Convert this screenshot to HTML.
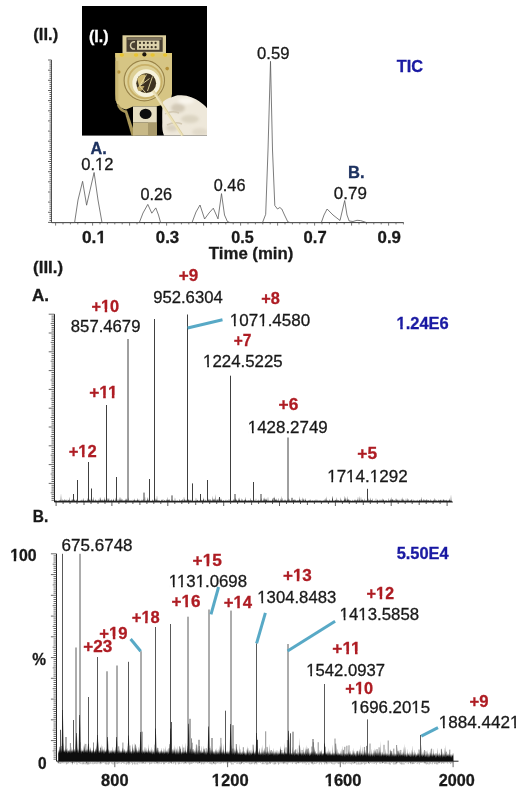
<!DOCTYPE html>
<html><head><meta charset="utf-8"><style>
html,body{margin:0;padding:0;background:#fff;}
svg{display:block;}
text{font-family:"Liberation Sans",sans-serif;}
</style></head><body>
<svg width="526" height="797" viewBox="0 0 526 797">
<defs><filter id="blur" x="-5%" y="-5%" width="110%" height="110%"><feGaussianBlur stdDeviation="0.6"/></filter>
<filter id="soft" x="-20%" y="-20%" width="140%" height="140%"><feGaussianBlur stdDeviation="1.6"/></filter>
<clipPath id="gloveclip"><path d="M81 95.7 C84 93 87 91.8 89.7 91.3 C93 89.5 96 89 98.3 89.2 C102 89 106 90 109.2 91.3 C112.5 92.5 115.5 94 117.8 95.7 C120.5 97.5 123 99.5 125 102.2 L125 129.6 L82 129.6 C80.5 126 80 122 80.3 116 C80.2 110 80 102 81 95.7 Z"/></clipPath>
<mask id="mk0" maskUnits="userSpaceOnUse" x="0" y="0" width="526" height="797"><rect width="526" height="797" fill="#fff"/><rect x="95.30" y="167.71" width="3.79" height="3.73" fill="#000"/><rect x="100.79" y="167.71" width="3.66" height="3.73" fill="#000"/></mask><mask id="mk1" maskUnits="userSpaceOnUse" x="0" y="0" width="526" height="797"><rect width="526" height="797" fill="#fff"/><rect x="96.50" y="240.48" width="3.82" height="4.16" fill="#000"/><rect x="102.93" y="240.48" width="3.60" height="4.16" fill="#000"/></mask><mask id="mk2" maskUnits="userSpaceOnUse" x="0" y="0" width="526" height="797"><rect width="526" height="797" fill="#fff"/><rect x="101.05" y="308.88" width="3.67" height="4.16" fill="#000"/><rect x="107.20" y="308.88" width="3.46" height="4.16" fill="#000"/></mask><mask id="mk3" maskUnits="userSpaceOnUse" x="0" y="0" width="526" height="797"><rect width="526" height="797" fill="#fff"/><rect x="230.11" y="323.31" width="3.86" height="3.73" fill="#000"/><rect x="235.71" y="323.31" width="3.73" height="3.73" fill="#000"/><rect x="258.49" y="323.31" width="3.86" height="3.73" fill="#000"/><rect x="264.09" y="323.31" width="3.73" height="3.73" fill="#000"/></mask><mask id="mk4" maskUnits="userSpaceOnUse" x="0" y="0" width="526" height="797"><rect width="526" height="797" fill="#fff"/><rect x="203.41" y="364.41" width="3.83" height="3.73" fill="#000"/><rect x="208.97" y="364.41" width="3.70" height="3.73" fill="#000"/></mask><mask id="mk5" maskUnits="userSpaceOnUse" x="0" y="0" width="526" height="797"><rect width="526" height="797" fill="#fff"/><rect x="396.56" y="326.38" width="3.69" height="4.16" fill="#000"/><rect x="402.75" y="326.38" width="3.48" height="4.16" fill="#000"/></mask><mask id="mk6" maskUnits="userSpaceOnUse" x="0" y="0" width="526" height="797"><rect width="526" height="797" fill="#fff"/><rect x="99.34" y="395.34" width="3.82" height="4.16" fill="#000"/><rect x="105.78" y="395.34" width="3.60" height="4.16" fill="#000"/><rect x="108.00" y="395.34" width="3.82" height="4.16" fill="#000"/><rect x="114.43" y="395.34" width="3.60" height="4.16" fill="#000"/></mask><mask id="mk7" maskUnits="userSpaceOnUse" x="0" y="0" width="526" height="797"><rect width="526" height="797" fill="#fff"/><rect x="248.11" y="430.31" width="3.84" height="3.73" fill="#000"/><rect x="253.69" y="430.31" width="3.71" height="3.73" fill="#000"/></mask><mask id="mk8" maskUnits="userSpaceOnUse" x="0" y="0" width="526" height="797"><rect width="526" height="797" fill="#fff"/><rect x="78.36" y="454.34" width="3.70" height="4.16" fill="#000"/><rect x="84.56" y="454.34" width="3.49" height="4.16" fill="#000"/></mask><mask id="mk9" maskUnits="userSpaceOnUse" x="0" y="0" width="526" height="797"><rect width="526" height="797" fill="#fff"/><rect x="327.51" y="479.41" width="3.86" height="3.73" fill="#000"/><rect x="333.11" y="479.41" width="3.73" height="3.73" fill="#000"/><rect x="346.43" y="479.41" width="3.86" height="3.73" fill="#000"/><rect x="352.03" y="479.41" width="3.73" height="3.73" fill="#000"/><rect x="370.07" y="479.41" width="3.86" height="3.73" fill="#000"/><rect x="375.67" y="479.41" width="3.73" height="3.73" fill="#000"/></mask><mask id="mk10" maskUnits="userSpaceOnUse" x="0" y="0" width="526" height="797"><rect width="526" height="797" fill="#fff"/><rect x="10.16" y="558.28" width="3.59" height="4.16" fill="#000"/><rect x="16.18" y="558.28" width="3.39" height="4.16" fill="#000"/></mask><mask id="mk11" maskUnits="userSpaceOnUse" x="0" y="0" width="526" height="797"><rect width="526" height="797" fill="#fff"/><rect x="202.75" y="563.58" width="3.82" height="4.16" fill="#000"/><rect x="209.19" y="563.58" width="3.60" height="4.16" fill="#000"/></mask><mask id="mk12" maskUnits="userSpaceOnUse" x="0" y="0" width="526" height="797"><rect width="526" height="797" fill="#fff"/><rect x="169.11" y="584.91" width="3.83" height="3.73" fill="#000"/><rect x="174.67" y="584.91" width="3.70" height="3.73" fill="#000"/><rect x="177.22" y="584.91" width="3.83" height="3.73" fill="#000"/><rect x="182.77" y="584.91" width="3.70" height="3.73" fill="#000"/><rect x="195.92" y="584.91" width="3.83" height="3.73" fill="#000"/><rect x="201.48" y="584.91" width="3.70" height="3.73" fill="#000"/></mask><mask id="mk13" maskUnits="userSpaceOnUse" x="0" y="0" width="526" height="797"><rect width="526" height="797" fill="#fff"/><rect x="292.97" y="578.75" width="3.79" height="4.16" fill="#000"/><rect x="299.34" y="578.75" width="3.57" height="4.16" fill="#000"/></mask><mask id="mk14" maskUnits="userSpaceOnUse" x="0" y="0" width="526" height="797"><rect width="526" height="797" fill="#fff"/><rect x="257.62" y="600.91" width="3.81" height="3.73" fill="#000"/><rect x="263.14" y="600.91" width="3.68" height="3.73" fill="#000"/></mask><mask id="mk15" maskUnits="userSpaceOnUse" x="0" y="0" width="526" height="797"><rect width="526" height="797" fill="#fff"/><rect x="376.04" y="596.04" width="3.67" height="4.16" fill="#000"/><rect x="382.19" y="596.04" width="3.46" height="4.16" fill="#000"/></mask><mask id="mk16" maskUnits="userSpaceOnUse" x="0" y="0" width="526" height="797"><rect width="526" height="797" fill="#fff"/><rect x="181.57" y="604.68" width="3.79" height="4.16" fill="#000"/><rect x="187.94" y="604.68" width="3.57" height="4.16" fill="#000"/></mask><mask id="mk17" maskUnits="userSpaceOnUse" x="0" y="0" width="526" height="797"><rect width="526" height="797" fill="#fff"/><rect x="233.54" y="605.64" width="3.72" height="4.16" fill="#000"/><rect x="239.79" y="605.64" width="3.51" height="4.16" fill="#000"/></mask><mask id="mk18" maskUnits="userSpaceOnUse" x="0" y="0" width="526" height="797"><rect width="526" height="797" fill="#fff"/><rect x="339.91" y="617.31" width="3.83" height="3.73" fill="#000"/><rect x="345.47" y="617.31" width="3.69" height="3.73" fill="#000"/><rect x="358.61" y="617.31" width="3.83" height="3.73" fill="#000"/><rect x="364.16" y="617.31" width="3.69" height="3.73" fill="#000"/></mask><mask id="mk19" maskUnits="userSpaceOnUse" x="0" y="0" width="526" height="797"><rect width="526" height="797" fill="#fff"/><rect x="141.44" y="620.48" width="3.69" height="4.16" fill="#000"/><rect x="147.63" y="620.48" width="3.48" height="4.16" fill="#000"/></mask><mask id="mk20" maskUnits="userSpaceOnUse" x="0" y="0" width="526" height="797"><rect width="526" height="797" fill="#fff"/><rect x="109.11" y="636.28" width="3.71" height="4.16" fill="#000"/><rect x="115.35" y="636.28" width="3.50" height="4.16" fill="#000"/></mask><mask id="mk21" maskUnits="userSpaceOnUse" x="0" y="0" width="526" height="797"><rect width="526" height="797" fill="#fff"/><rect x="342.49" y="651.24" width="3.82" height="4.16" fill="#000"/><rect x="348.93" y="651.24" width="3.60" height="4.16" fill="#000"/><rect x="351.15" y="651.24" width="3.82" height="4.16" fill="#000"/><rect x="357.58" y="651.24" width="3.60" height="4.16" fill="#000"/></mask><mask id="mk22" maskUnits="userSpaceOnUse" x="0" y="0" width="526" height="797"><rect width="526" height="797" fill="#fff"/><rect x="306.52" y="673.51" width="3.80" height="3.73" fill="#000"/><rect x="312.03" y="673.51" width="3.67" height="3.73" fill="#000"/></mask><mask id="mk23" maskUnits="userSpaceOnUse" x="0" y="0" width="526" height="797"><rect width="526" height="797" fill="#fff"/><rect x="354.91" y="691.48" width="3.66" height="4.16" fill="#000"/><rect x="361.05" y="691.48" width="3.45" height="4.16" fill="#000"/></mask><mask id="mk24" maskUnits="userSpaceOnUse" x="0" y="0" width="526" height="797"><rect width="526" height="797" fill="#fff"/><rect x="350.71" y="710.51" width="3.83" height="3.73" fill="#000"/><rect x="356.27" y="710.51" width="3.70" height="3.73" fill="#000"/><rect x="411.60" y="710.51" width="3.83" height="3.73" fill="#000"/><rect x="417.17" y="710.51" width="3.70" height="3.73" fill="#000"/></mask><mask id="mk25" maskUnits="userSpaceOnUse" x="0" y="0" width="526" height="797"><rect width="526" height="797" fill="#fff"/><rect x="439.11" y="725.51" width="3.87" height="3.73" fill="#000"/><rect x="444.73" y="725.51" width="3.74" height="3.73" fill="#000"/><rect x="510.35" y="725.51" width="3.87" height="3.73" fill="#000"/><rect x="515.97" y="725.51" width="3.74" height="3.73" fill="#000"/></mask><mask id="mk26" maskUnits="userSpaceOnUse" x="0" y="0" width="526" height="797"><rect width="526" height="797" fill="#fff"/><rect x="211.86" y="783.08" width="3.70" height="4.16" fill="#000"/><rect x="218.07" y="783.08" width="3.49" height="4.16" fill="#000"/></mask><mask id="mk27" maskUnits="userSpaceOnUse" x="0" y="0" width="526" height="797"><rect width="526" height="797" fill="#fff"/><rect x="324.76" y="783.08" width="3.70" height="4.16" fill="#000"/><rect x="330.97" y="783.08" width="3.49" height="4.16" fill="#000"/></mask>
<filter id="gblur" x="0" y="0" width="100%" height="100%" filterUnits="userSpaceOnUse"><feGaussianBlur stdDeviation="0.4"/></filter></defs>
<rect width="526" height="797" fill="#fff"/>
<g filter="url(#gblur)">
<rect width="526" height="797" fill="#fff"/>
<g transform="translate(82,6)">
<rect x="0" y="0" width="125" height="129.6" fill="#060606"/>
<g filter="url(#blur)">
<rect x="40.5" y="29.3" width="43.5" height="18" fill="#dccf9c"/>
<rect x="44.5" y="31.3" width="36.2" height="14.5" fill="#4a4132"/>
<rect x="45.5" y="32.2" width="34" height="1.6" fill="#8a806a"/>
<rect x="55" y="34.5" width="22.4" height="9.3" fill="#ddd3ac"/>
<circle cx="58.0" cy="36.9" r="1.1" fill="#3a3224"/><circle cx="58.0" cy="41.2" r="1.1" fill="#3a3224"/><circle cx="61.9" cy="36.9" r="1.1" fill="#3a3224"/><circle cx="61.9" cy="41.2" r="1.1" fill="#3a3224"/><circle cx="65.8" cy="36.9" r="1.1" fill="#3a3224"/><circle cx="65.8" cy="41.2" r="1.1" fill="#3a3224"/><circle cx="69.7" cy="36.9" r="1.1" fill="#3a3224"/><circle cx="69.7" cy="41.2" r="1.1" fill="#3a3224"/><circle cx="73.6" cy="36.9" r="1.1" fill="#3a3224"/><circle cx="73.6" cy="41.2" r="1.1" fill="#3a3224"/>
<path d="M53 35.8 A3.7 3.7 0 1 0 53 43" stroke="#d6ccaa" stroke-width="1.5" fill="none"/>
<path d="M33.3 47 L90 47 L90 88 Q89 96 84 98 L74 100.5 L51 100.5 L44 103.5 Q37 102 34.5 97 Q33.3 94 33.3 88 Z" fill="#d6c584"/>
<path d="M36.5 98 Q40 104 45 104.5 L53.5 129.6 L49.5 129.6 L43 107 Q36 104 35 99 Z" fill="#a89658"/>
<rect x="33.3" y="47" width="56.7" height="4.5" fill="#dcc878"/>
<ellipse cx="39.8" cy="49" rx="2.2" ry="1.8" fill="#e8c430"/>
<ellipse cx="54.1" cy="49" rx="2.2" ry="1.8" fill="#e8c430"/>
<ellipse cx="70.6" cy="49" rx="2.2" ry="1.8" fill="#e8c430"/>
<ellipse cx="83.2" cy="49" rx="2.2" ry="1.8" fill="#e8c430"/>
<circle cx="62.4" cy="48.4" r="2.1" fill="#1a140c"/>
<circle cx="36.7" cy="66" r="1.8" fill="#b49038"/><circle cx="85.2" cy="62.6" r="1.8" fill="#b49038"/>
<rect x="33.3" y="55" width="3" height="40" fill="#c2ae68" opacity="0.6"/>
<circle cx="62.3" cy="74.6" r="21" fill="#ddd096"/>
<circle cx="62.3" cy="74.6" r="20.2" fill="none" stroke="#9a8448" stroke-width="1.2"/>
<circle cx="63" cy="75.6" r="16.8" fill="none" stroke="#c8b068" stroke-width="1.8"/>
<circle cx="64.2" cy="77.2" r="11.9" fill="none" stroke="#f6f2dc" stroke-width="3.9"/>
<circle cx="64.2" cy="77.2" r="9.9" fill="#3c3220"/>
<path d="M57 80 L55.2 73 L57.5 70 L60.5 68.5 L63.5 68.4 L62 76 Z" fill="#cfba72"/>
<path d="M57 80 L55 82 L56.5 85 L60 84.5 L62.5 80 Z" fill="#b8a260"/>
<path d="M57.5 80 L64.5 68.5 M57.5 80 L67.5 72.5 M57.5 80 L63.5 86.5 M65.5 85 L70.5 70.5" stroke="#e8dca6" stroke-width="0.9" fill="none"/>
<path d="M51 116.3 L74.8 116.3 L74.8 129.6 L51 129.6 Z" fill="#c8b987"/>
<rect x="66" y="116.3" width="8.8" height="13.3" fill="#a99a6c"/>
<path d="M51 100.5 L74.8 100.5 L74.8 116.3 L51 116.3 Z" fill="#e6dec2"/>
<ellipse cx="63.6" cy="107.9" rx="6" ry="5.2" fill="#0e0c0a"/>
<path d="M81 95.7 C84 93 87 91.8 89.7 91.3 C93 89.5 96 89 98.3 89.2 C102 89 106 90 109.2 91.3 C112.5 92.5 115.5 94 117.8 95.7 C120.5 97.5 123 99.5 125 102.2 L125 129.6 L82 129.6 C80.5 126 80 122 80.3 116 C80.2 110 80 102 81 95.7 Z" fill="#eee8da"/>
<g filter="url(#soft)" clip-path="url(#gloveclip)">
<ellipse cx="96" cy="102" rx="7" ry="4.5" fill="#a89c80" opacity="0.4"/>
<ellipse cx="108" cy="113" rx="9" ry="4" fill="#b0a488" opacity="0.3"/>
<ellipse cx="90" cy="122" rx="6" ry="3.5" fill="#b4a88e" opacity="0.35"/>
<ellipse cx="118" cy="126" rx="8" ry="4" fill="#bcb198" opacity="0.25"/>
<ellipse cx="104" cy="95" rx="8" ry="3" fill="#fdfbf5" opacity="0.7"/>
</g>
<path d="M83 108 Q90 104 97 107 M85 119 Q93 115 100 118" stroke="#d2c8b2" stroke-width="1.4" fill="none"/>
<path d="M70.8 84.5 L100.5 129.6" stroke="#ece2b8" stroke-width="2.8" fill="none"/>
<path d="M71.8 84.5 L101.5 129.6" stroke="#c9b98a" stroke-width="0.7" fill="none" opacity="0.7"/>
</g>
</g>
<line x1="51.5" y1="60" x2="51.5" y2="222.6" stroke="#444" stroke-width="0.9"/>
<path d="M48.1 60.0H51.5M49.5 62.0H51.5M49.5 64.1H51.5M49.5 66.1H51.5M49.5 68.1H51.5M48.1 70.2H51.5M49.5 72.2H51.5M49.5 74.2H51.5M49.5 76.2H51.5M49.5 78.3H51.5M48.1 80.3H51.5M49.5 82.3H51.5M49.5 84.4H51.5M49.5 86.4H51.5M49.5 88.4H51.5M48.1 90.5H51.5M49.5 92.5H51.5M49.5 94.5H51.5M49.5 96.5H51.5M49.5 98.6H51.5M48.1 100.6H51.5M49.5 102.6H51.5M49.5 104.7H51.5M49.5 106.7H51.5M49.5 108.7H51.5M48.1 110.8H51.5M49.5 112.8H51.5M49.5 114.8H51.5M49.5 116.8H51.5M49.5 118.9H51.5M48.1 120.9H51.5M49.5 122.9H51.5M49.5 125.0H51.5M49.5 127.0H51.5M49.5 129.0H51.5M48.1 131.1H51.5M49.5 133.1H51.5M49.5 135.1H51.5M49.5 137.1H51.5M49.5 139.2H51.5M48.1 141.2H51.5M49.5 143.2H51.5M49.5 145.3H51.5M49.5 147.3H51.5M49.5 149.3H51.5M48.1 151.4H51.5M49.5 153.4H51.5M49.5 155.4H51.5M49.5 157.4H51.5M49.5 159.5H51.5M48.1 161.5H51.5M49.5 163.5H51.5M49.5 165.6H51.5M49.5 167.6H51.5M49.5 169.6H51.5M48.1 171.7H51.5M49.5 173.7H51.5M49.5 175.7H51.5M49.5 177.7H51.5M49.5 179.8H51.5M48.1 181.8H51.5M49.5 183.8H51.5M49.5 185.9H51.5M49.5 187.9H51.5M49.5 189.9H51.5M48.1 192.0H51.5M49.5 194.0H51.5M49.5 196.0H51.5M49.5 198.0H51.5M49.5 200.1H51.5M48.1 202.1H51.5M49.5 204.1H51.5M49.5 206.2H51.5M49.5 208.2H51.5M49.5 210.2H51.5M48.1 212.3H51.5M49.5 214.3H51.5M49.5 216.3H51.5M49.5 218.3H51.5M49.5 220.4H51.5M48.1 222.4H51.5" stroke="#333" stroke-width="0.8" fill="none"/>
<line x1="51.5" y1="222.6" x2="403.5" y2="222.6" stroke="#333" stroke-width="1"/>
<path d="M55.6 222.6V225.6M63.0 222.6V224.4M70.4 222.6V224.4M77.8 222.6V224.4M85.2 222.6V224.4M92.6 222.6V225.6M100.0 222.6V224.4M107.4 222.6V224.4M114.8 222.6V224.4M122.2 222.6V224.4M129.6 222.6V225.6M137.0 222.6V224.4M144.4 222.6V224.4M151.8 222.6V224.4M159.2 222.6V224.4M166.6 222.6V225.6M174.0 222.6V224.4M181.4 222.6V224.4M188.8 222.6V224.4M196.2 222.6V224.4M203.6 222.6V225.6M211.0 222.6V224.4M218.4 222.6V224.4M225.8 222.6V224.4M233.2 222.6V224.4M240.6 222.6V225.6M248.0 222.6V224.4M255.4 222.6V224.4M262.8 222.6V224.4M270.2 222.6V224.4M277.6 222.6V225.6M285.0 222.6V224.4M292.4 222.6V224.4M299.8 222.6V224.4M307.2 222.6V224.4M314.6 222.6V225.6M322.0 222.6V224.4M329.4 222.6V224.4M336.8 222.6V224.4M344.2 222.6V224.4M351.6 222.6V225.6M359.0 222.6V224.4M366.4 222.6V224.4M373.8 222.6V224.4M381.2 222.6V224.4M388.6 222.6V225.6M396.0 222.6V224.4M403.4 222.6V224.4" stroke="#444" stroke-width="0.7" fill="none"/>
<polyline fill="none" stroke="#5a5a5a" stroke-width="0.8" stroke-linejoin="round" points="52.0,222.6 74.6,222.6 78.0,200.0 82.6,181.3 86.6,205.2 94.1,172.5 98.0,200.0 102.0,222.6 139.3,222.6 143.0,213.0 147.8,204.4 151.8,213.2 155.8,207.9 158.5,215.0 160.6,222.6 192.0,222.6 196.0,212.0 200.0,205.0 204.6,219.0 209.0,213.0 213.3,208.2 218.0,218.9 221.5,193.6 224.5,215.0 227.4,221.5 230.0,222.6 262.5,222.6 265.7,214.3 268.0,150.0 270.5,61.3 272.5,150.0 274.8,205.5 277.5,209.0 279.8,207.5 281.8,209.0 284.5,215.0 287.8,221.8 290.0,222.6 321.3,222.6 324.0,215.0 327.1,209.0 333.0,215.0 340.0,220.5 344.7,200.5 347.0,215.0 349.2,221.0 353.0,221.5 357.0,220.3 360.7,220.6 366.5,222.6 403.5,222.6"/>
<line x1="54.5" y1="314.2" x2="54.5" y2="502.0" stroke="#222" stroke-width="1"/>
<path d="M48.7 314.2H54.5M51.5 316.1H54.5M51.5 318.0H54.5M51.5 319.8H54.5M51.5 321.7H54.5M50.7 323.6H54.5M51.5 325.5H54.5M51.5 327.4H54.5M51.5 329.2H54.5M51.5 331.1H54.5M48.7 333.0H54.5M51.5 334.9H54.5M51.5 336.8H54.5M51.5 338.6H54.5M51.5 340.5H54.5M50.7 342.4H54.5M51.5 344.3H54.5M51.5 346.2H54.5M51.5 348.0H54.5M51.5 349.9H54.5M48.7 351.8H54.5M51.5 353.7H54.5M51.5 355.6H54.5M51.5 357.4H54.5M51.5 359.3H54.5M50.7 361.2H54.5M51.5 363.1H54.5M51.5 365.0H54.5M51.5 366.8H54.5M51.5 368.7H54.5M48.7 370.6H54.5M51.5 372.5H54.5M51.5 374.4H54.5M51.5 376.2H54.5M51.5 378.1H54.5M50.7 380.0H54.5M51.5 381.9H54.5M51.5 383.8H54.5M51.5 385.6H54.5M51.5 387.5H54.5M48.7 389.4H54.5M51.5 391.3H54.5M51.5 393.2H54.5M51.5 395.0H54.5M51.5 396.9H54.5M50.7 398.8H54.5M51.5 400.7H54.5M51.5 402.6H54.5M51.5 404.4H54.5M51.5 406.3H54.5M48.7 408.2H54.5M51.5 410.1H54.5M51.5 412.0H54.5M51.5 413.8H54.5M51.5 415.7H54.5M50.7 417.6H54.5M51.5 419.5H54.5M51.5 421.4H54.5M51.5 423.2H54.5M51.5 425.1H54.5M48.7 427.0H54.5M51.5 428.9H54.5M51.5 430.8H54.5M51.5 432.6H54.5M51.5 434.5H54.5M50.7 436.4H54.5M51.5 438.3H54.5M51.5 440.2H54.5M51.5 442.0H54.5M51.5 443.9H54.5M48.7 445.8H54.5M51.5 447.7H54.5M51.5 449.6H54.5M51.5 451.4H54.5M51.5 453.3H54.5M50.7 455.2H54.5M51.5 457.1H54.5M51.5 459.0H54.5M51.5 460.8H54.5M51.5 462.7H54.5M48.7 464.6H54.5M51.5 466.5H54.5M51.5 468.4H54.5M51.5 470.2H54.5M51.5 472.1H54.5M50.7 474.0H54.5M51.5 475.9H54.5M51.5 477.8H54.5M51.5 479.6H54.5M51.5 481.5H54.5M48.7 483.4H54.5M51.5 485.3H54.5M51.5 487.2H54.5M51.5 489.0H54.5M51.5 490.9H54.5M50.7 492.8H54.5M51.5 494.7H54.5M51.5 496.6H54.5M51.5 498.4H54.5M51.5 500.3H54.5" stroke="#3a3a3a" stroke-width="0.75" fill="none"/>
<line x1="54.5" y1="502.0" x2="452.8" y2="502.0" stroke="#222" stroke-width="1"/>
<path d="M56.1 502.0V506.0M63.1 502.0V504.0M70.0 502.0V504.0M77.0 502.0V504.0M84.0 502.0V505.0M91.0 502.0V504.0M98.0 502.0V504.0M105.0 502.0V504.0M111.9 502.0V506.0M118.9 502.0V504.0M125.9 502.0V504.0M132.9 502.0V504.0M139.9 502.0V505.0M146.9 502.0V504.0M153.8 502.0V504.0M160.8 502.0V504.0M167.8 502.0V506.0M174.8 502.0V504.0M181.8 502.0V504.0M188.7 502.0V504.0M195.7 502.0V505.0M202.7 502.0V504.0M209.7 502.0V504.0M216.7 502.0V504.0M223.7 502.0V506.0M230.6 502.0V504.0M237.6 502.0V504.0M244.6 502.0V504.0M251.6 502.0V505.0M258.6 502.0V504.0M265.6 502.0V504.0M272.5 502.0V504.0M279.5 502.0V506.0M286.5 502.0V504.0M293.5 502.0V504.0M300.5 502.0V504.0M307.4 502.0V505.0M314.4 502.0V504.0M321.4 502.0V504.0M328.4 502.0V504.0M335.4 502.0V506.0M342.4 502.0V504.0M349.3 502.0V504.0M356.3 502.0V504.0M363.3 502.0V505.0M370.3 502.0V504.0M377.3 502.0V504.0M384.3 502.0V504.0M391.2 502.0V506.0M398.2 502.0V504.0M405.2 502.0V504.0M412.2 502.0V504.0M419.2 502.0V505.0M426.2 502.0V504.0M433.1 502.0V504.0M440.1 502.0V504.0M447.1 502.0V506.0" stroke="#333" stroke-width="0.8" fill="none"/>
<polygon fill="#222" points="55.00,502.00 55.00,500.31 55.30,501.10 55.60,499.65 55.90,501.10 56.20,499.93 56.50,501.10 56.80,500.64 57.10,501.10 57.40,500.66 57.70,501.10 58.00,500.63 58.30,501.10 58.60,500.15 58.90,501.10 59.20,500.57 59.50,501.10 59.80,499.71 60.10,501.10 60.40,499.84 60.70,501.10 61.00,493.31 61.30,501.10 61.60,500.36 61.90,501.10 62.20,500.57 62.50,501.10 62.80,499.01 63.10,501.10 63.40,499.83 63.70,501.10 64.00,500.23 64.30,501.10 64.60,498.62 64.90,501.10 65.20,499.56 65.50,501.10 65.80,500.32 66.10,501.10 66.40,500.10 66.70,501.10 67.00,499.12 67.30,501.10 67.60,500.42 67.90,501.10 68.20,499.96 68.50,501.10 68.80,499.39 69.10,501.10 69.40,496.78 69.70,501.10 70.00,500.16 70.30,501.10 70.60,500.54 70.90,501.10 71.20,500.66 71.50,501.10 71.80,499.25 72.10,501.10 72.40,498.62 72.70,501.10 73.00,499.51 73.30,501.10 73.60,499.83 73.90,501.10 74.20,498.87 74.50,501.10 74.80,500.06 75.10,501.10 75.40,500.64 75.70,501.10 76.00,499.66 76.30,501.10 76.60,498.97 76.90,501.10 77.20,500.21 77.50,501.10 77.80,500.68 78.10,501.10 78.40,500.52 78.70,501.10 79.00,500.64 79.30,501.10 79.60,500.56 79.90,501.10 80.20,500.20 80.50,501.10 80.80,500.62 81.10,501.10 81.40,499.90 81.70,501.10 82.00,498.99 82.30,501.10 82.60,500.37 82.90,501.10 83.20,500.26 83.50,501.10 83.80,497.54 84.10,501.10 84.40,500.51 84.70,501.10 85.00,500.43 85.30,501.10 85.60,499.81 85.90,501.10 86.20,500.70 86.50,501.10 86.80,500.24 87.10,501.10 87.40,497.64 87.70,501.10 88.00,499.98 88.30,501.10 88.60,495.82 88.90,501.10 89.20,499.19 89.50,501.10 89.80,499.10 90.10,501.10 90.40,500.19 90.70,501.10 91.00,498.03 91.30,501.10 91.60,500.47 91.90,501.10 92.20,498.78 92.50,501.10 92.80,500.54 93.10,501.10 93.40,496.56 93.70,501.10 94.00,499.75 94.30,501.10 94.60,500.41 94.90,501.10 95.20,500.25 95.50,501.10 95.80,498.81 96.10,501.10 96.40,500.07 96.70,501.10 97.00,500.61 97.30,501.10 97.60,500.28 97.90,501.10 98.20,498.93 98.50,501.10 98.80,500.68 99.10,501.10 99.40,499.95 99.70,501.10 100.00,497.10 100.30,501.10 100.60,496.86 100.90,501.10 101.20,499.51 101.50,501.10 101.80,500.24 102.10,501.10 102.40,499.22 102.70,501.10 103.00,499.19 103.30,501.10 103.60,500.45 103.90,501.10 104.20,496.51 104.50,501.10 104.80,499.06 105.10,501.10 105.40,499.35 105.70,501.10 106.00,499.97 106.30,501.10 106.60,498.47 106.90,501.10 107.20,500.40 107.50,501.10 107.80,497.56 108.10,501.10 108.40,497.94 108.70,501.10 109.00,497.60 109.30,501.10 109.60,500.45 109.90,501.10 110.20,500.48 110.50,501.10 110.80,499.72 111.10,501.10 111.40,498.86 111.70,501.10 112.00,499.64 112.30,501.10 112.60,500.61 112.90,501.10 113.20,498.29 113.50,501.10 113.80,499.31 114.10,501.10 114.40,500.50 114.70,501.10 115.00,500.30 115.30,501.10 115.60,497.14 115.90,501.10 116.20,500.19 116.50,501.10 116.80,499.41 117.10,501.10 117.40,500.56 117.70,501.10 118.00,498.35 118.30,501.10 118.60,500.54 118.90,501.10 119.20,496.77 119.50,501.10 119.80,500.27 120.10,501.10 120.40,496.63 120.70,501.10 121.00,499.65 121.30,501.10 121.60,497.99 121.90,501.10 122.20,498.65 122.50,501.10 122.80,500.46 123.10,501.10 123.40,500.35 123.70,501.10 124.00,499.82 124.30,501.10 124.60,500.16 124.90,501.10 125.20,498.29 125.50,501.10 125.80,500.09 126.10,501.10 126.40,498.35 126.70,501.10 127.00,498.20 127.30,501.10 127.60,499.94 127.90,501.10 128.20,500.68 128.50,501.10 128.80,497.00 129.10,501.10 129.40,500.51 129.70,501.10 130.00,499.41 130.30,501.10 130.60,500.31 130.90,501.10 131.20,499.89 131.50,501.10 131.80,500.59 132.10,501.10 132.40,500.41 132.70,501.10 133.00,499.22 133.30,501.10 133.60,499.88 133.90,501.10 134.20,498.26 134.50,501.10 134.80,499.75 135.10,501.10 135.40,499.98 135.70,501.10 136.00,500.10 136.30,501.10 136.60,500.05 136.90,501.10 137.20,499.50 137.50,501.10 137.80,497.85 138.10,501.10 138.40,499.88 138.70,501.10 139.00,498.87 139.30,501.10 139.60,500.57 139.90,501.10 140.20,500.62 140.50,501.10 140.80,500.62 141.10,501.10 141.40,499.17 141.70,501.10 142.00,500.53 142.30,501.10 142.60,499.62 142.90,501.10 143.20,498.56 143.50,501.10 143.80,500.45 144.10,501.10 144.40,500.19 144.70,501.10 145.00,496.11 145.30,501.10 145.60,500.52 145.90,501.10 146.20,499.98 146.50,501.10 146.80,500.48 147.10,501.10 147.40,496.53 147.70,501.10 148.00,497.79 148.30,501.10 148.60,499.72 148.90,501.10 149.20,500.63 149.50,501.10 149.80,499.15 150.10,501.10 150.40,500.59 150.70,501.10 151.00,500.66 151.30,501.10 151.60,500.38 151.90,501.10 152.20,500.15 152.50,501.10 152.80,498.99 153.10,501.10 153.40,500.54 153.70,501.10 154.00,499.85 154.30,501.10 154.60,497.39 154.90,501.10 155.20,500.15 155.50,501.10 155.80,497.91 156.10,501.10 156.40,499.08 156.70,501.10 157.00,495.10 157.30,501.10 157.60,500.10 157.90,501.10 158.20,499.89 158.50,501.10 158.80,500.39 159.10,501.10 159.40,499.95 159.70,501.10 160.00,500.58 160.30,501.10 160.60,500.65 160.90,501.10 161.20,500.33 161.50,501.10 161.80,499.27 162.10,501.10 162.40,500.01 162.70,501.10 163.00,498.15 163.30,501.10 163.60,500.68 163.90,501.10 164.20,499.90 164.50,501.10 164.80,500.06 165.10,501.10 165.40,500.59 165.70,501.10 166.00,500.13 166.30,501.10 166.60,498.90 166.90,501.10 167.20,499.99 167.50,501.10 167.80,496.66 168.10,501.10 168.40,498.91 168.70,501.10 169.00,499.69 169.30,501.10 169.60,498.45 169.90,501.10 170.20,500.63 170.50,501.10 170.80,500.40 171.10,501.10 171.40,500.61 171.70,501.10 172.00,498.66 172.30,501.10 172.60,500.37 172.90,501.10 173.20,500.35 173.50,501.10 173.80,500.53 174.10,501.10 174.40,500.39 174.70,501.10 175.00,497.10 175.30,501.10 175.60,500.42 175.90,501.10 176.20,500.33 176.50,501.10 176.80,500.70 177.10,501.10 177.40,500.06 177.70,501.10 178.00,500.48 178.30,501.10 178.60,500.70 178.90,501.10 179.20,500.61 179.50,501.10 179.80,498.40 180.10,501.10 180.40,500.43 180.70,501.10 181.00,499.95 181.30,501.10 181.60,499.63 181.90,501.10 182.20,498.59 182.50,501.10 182.80,500.31 183.10,501.10 183.40,500.54 183.70,501.10 184.00,496.08 184.30,501.10 184.60,498.47 184.90,501.10 185.20,499.38 185.50,501.10 185.80,500.55 186.10,501.10 186.40,500.00 186.70,501.10 187.00,499.07 187.30,501.10 187.60,499.82 187.90,501.10 188.20,499.55 188.50,501.10 188.80,498.61 189.10,501.10 189.40,500.25 189.70,501.10 190.00,498.89 190.30,501.10 190.60,499.71 190.90,501.10 191.20,499.56 191.50,501.10 191.80,500.70 192.10,501.10 192.40,499.32 192.70,501.10 193.00,499.93 193.30,501.10 193.60,500.63 193.90,501.10 194.20,500.41 194.50,501.10 194.80,500.39 195.10,501.10 195.40,500.47 195.70,501.10 196.00,496.98 196.30,501.10 196.60,500.22 196.90,501.10 197.20,499.55 197.50,501.10 197.80,499.74 198.10,501.10 198.40,500.62 198.70,501.10 199.00,500.41 199.30,501.10 199.60,500.34 199.90,501.10 200.20,498.52 200.50,501.10 200.80,499.59 201.10,501.10 201.40,499.57 201.70,501.10 202.00,499.97 202.30,501.10 202.60,500.07 202.90,501.10 203.20,498.46 203.50,501.10 203.80,496.88 204.10,501.10 204.40,500.68 204.70,501.10 205.00,498.99 205.30,501.10 205.60,500.10 205.90,501.10 206.20,500.46 206.50,501.10 206.80,500.46 207.10,501.10 207.40,500.55 207.70,501.10 208.00,497.65 208.30,501.10 208.60,498.98 208.90,501.10 209.20,498.52 209.50,501.10 209.80,500.44 210.10,501.10 210.40,498.53 210.70,501.10 211.00,500.02 211.30,501.10 211.60,500.34 211.90,501.10 212.20,500.28 212.50,501.10 212.80,495.49 213.10,501.10 213.40,498.87 213.70,501.10 214.00,498.09 214.30,501.10 214.60,498.38 214.90,501.10 215.20,500.23 215.50,501.10 215.80,493.98 216.10,501.10 216.40,500.25 216.70,501.10 217.00,498.62 217.30,501.10 217.60,498.90 217.90,501.10 218.20,497.96 218.50,501.10 218.80,500.39 219.10,501.10 219.40,500.49 219.70,501.10 220.00,497.57 220.30,501.10 220.60,499.03 220.90,501.10 221.20,498.25 221.50,501.10 221.80,499.90 222.10,501.10 222.40,500.65 222.70,501.10 223.00,500.10 223.30,501.10 223.60,499.67 223.90,501.10 224.20,500.65 224.50,501.10 224.80,500.56 225.10,501.10 225.40,500.28 225.70,501.10 226.00,499.36 226.30,501.10 226.60,500.40 226.90,501.10 227.20,500.34 227.50,501.10 227.80,500.20 228.10,501.10 228.40,500.52 228.70,501.10 229.00,498.34 229.30,501.10 229.60,500.45 229.90,501.10 230.20,495.05 230.50,501.10 230.80,500.55 231.10,501.10 231.40,500.60 231.70,501.10 232.00,500.60 232.30,501.10 232.60,500.40 232.90,501.10 233.20,498.52 233.50,501.10 233.80,500.17 234.10,501.10 234.40,499.96 234.70,501.10 235.00,498.09 235.30,501.10 235.60,497.27 235.90,501.10 236.20,500.00 236.50,501.10 236.80,498.71 237.10,501.10 237.40,500.38 237.70,501.10 238.00,500.19 238.30,501.10 238.60,497.62 238.90,501.10 239.20,497.06 239.50,501.10 239.80,499.46 240.10,501.10 240.40,500.06 240.70,501.10 241.00,500.70 241.30,501.10 241.60,498.09 241.90,501.10 242.20,498.77 242.50,501.10 242.80,500.41 243.10,501.10 243.40,500.53 243.70,501.10 244.00,499.55 244.30,501.10 244.60,499.42 244.90,501.10 245.20,499.25 245.50,501.10 245.80,496.44 246.10,501.10 246.40,500.44 246.70,501.10 247.00,499.66 247.30,501.10 247.60,500.56 247.90,501.10 248.20,499.69 248.50,501.10 248.80,500.58 249.10,501.10 249.40,499.96 249.70,501.10 250.00,500.21 250.30,501.10 250.60,497.53 250.90,501.10 251.20,500.08 251.50,501.10 251.80,499.67 252.10,501.10 252.40,500.06 252.70,501.10 253.00,500.42 253.30,501.10 253.60,499.48 253.90,501.10 254.20,500.68 254.50,501.10 254.80,499.58 255.10,501.10 255.40,500.40 255.70,501.10 256.00,498.11 256.30,501.10 256.60,500.67 256.90,501.10 257.20,500.15 257.50,501.10 257.80,500.48 258.10,501.10 258.40,499.36 258.70,501.10 259.00,500.47 259.30,501.10 259.60,500.33 259.90,501.10 260.20,500.44 260.50,501.10 260.80,499.27 261.10,501.10 261.40,497.66 261.70,501.10 262.00,500.49 262.30,501.10 262.60,500.16 262.90,501.10 263.20,497.73 263.50,501.10 263.80,500.20 264.10,501.10 264.40,497.05 264.70,501.10 265.00,498.16 265.30,501.10 265.60,498.42 265.90,501.10 266.20,499.38 266.50,501.10 266.80,498.02 267.10,501.10 267.40,500.49 267.70,501.10 268.00,496.17 268.30,501.10 268.60,500.22 268.90,501.10 269.20,500.30 269.50,501.10 269.80,500.70 270.10,501.10 270.40,500.27 270.70,501.10 271.00,500.57 271.30,501.10 271.60,500.47 271.90,501.10 272.20,498.98 272.50,501.10 272.80,497.45 273.10,501.10 273.40,500.23 273.70,501.10 274.00,500.49 274.30,501.10 274.60,495.90 274.90,501.10 275.20,499.03 275.50,501.10 275.80,499.00 276.10,501.10 276.40,498.17 276.70,501.10 277.00,499.32 277.30,501.10 277.60,500.29 277.90,501.10 278.20,497.54 278.50,501.10 278.80,500.40 279.10,501.10 279.40,500.32 279.70,501.10 280.00,500.70 280.30,501.10 280.60,498.22 280.90,501.10 281.20,495.75 281.50,501.10 281.80,500.06 282.10,501.10 282.40,497.62 282.70,501.10 283.00,500.41 283.30,501.10 283.60,500.02 283.90,501.10 284.20,500.50 284.50,501.10 284.80,499.36 285.10,501.10 285.40,499.22 285.70,501.10 286.00,500.30 286.30,501.10 286.60,500.25 286.90,501.10 287.20,500.62 287.50,501.10 287.80,499.30 288.10,501.10 288.40,497.75 288.70,501.10 289.00,500.31 289.30,501.10 289.60,498.55 289.90,501.10 290.20,500.39 290.50,501.10 290.80,500.60 291.10,501.10 291.40,499.46 291.70,501.10 292.00,500.43 292.30,501.10 292.60,499.73 292.90,501.10 293.20,499.32 293.50,501.10 293.80,499.61 294.10,501.10 294.40,498.86 294.70,501.10 295.00,499.86 295.30,501.10 295.60,499.36 295.90,501.10 296.20,500.42 296.50,501.10 296.80,500.53 297.10,501.10 297.40,499.84 297.70,501.10 298.00,500.20 298.30,501.10 298.60,499.99 298.90,501.10 299.20,499.05 299.50,501.10 299.80,495.99 300.10,501.10 300.40,500.06 300.70,501.10 301.00,498.86 301.30,501.10 301.60,500.66 301.90,501.10 302.20,500.57 302.50,501.10 302.80,497.09 303.10,501.10 303.40,498.04 303.70,501.10 304.00,498.69 304.30,501.10 304.60,500.40 304.90,501.10 305.20,497.79 305.50,501.10 305.80,499.79 306.10,501.10 306.40,500.45 306.70,501.10 307.00,500.55 307.30,501.10 307.60,500.41 307.90,501.10 308.20,499.65 308.50,501.10 308.80,500.69 309.10,501.10 309.40,499.57 309.70,501.10 310.00,500.33 310.30,501.10 310.60,499.11 310.90,501.10 311.20,500.63 311.50,501.10 311.80,500.20 312.10,501.10 312.40,499.68 312.70,501.10 313.00,500.52 313.30,501.10 313.60,500.17 313.90,501.10 314.20,500.33 314.50,501.10 314.80,500.33 315.10,501.10 315.40,500.26 315.70,501.10 316.00,498.70 316.30,501.10 316.60,500.25 316.90,501.10 317.20,499.40 317.50,501.10 317.80,500.69 318.10,501.10 318.40,500.15 318.70,501.10 319.00,500.18 319.30,501.10 319.60,500.08 319.90,501.10 320.20,500.69 320.50,501.10 320.80,499.68 321.10,501.10 321.40,500.61 321.70,501.10 322.00,500.24 322.30,501.10 322.60,500.54 322.90,501.10 323.20,499.96 323.50,501.10 323.80,500.58 324.10,501.10 324.40,499.07 324.70,501.10 325.00,500.48 325.30,501.10 325.60,497.83 325.90,501.10 326.20,496.23 326.50,501.10 326.80,500.21 327.10,501.10 327.40,499.73 327.70,501.10 328.00,500.53 328.30,501.10 328.60,500.45 328.90,501.10 329.20,498.83 329.50,501.10 329.80,500.50 330.10,501.10 330.40,500.19 330.70,501.10 331.00,500.22 331.30,501.10 331.60,500.42 331.90,501.10 332.20,495.52 332.50,501.10 332.80,495.69 333.10,501.10 333.40,500.57 333.70,501.10 334.00,499.90 334.30,501.10 334.60,500.33 334.90,501.10 335.20,499.83 335.50,501.10 335.80,499.62 336.10,501.10 336.40,497.08 336.70,501.10 337.00,500.03 337.30,501.10 337.60,499.26 337.90,501.10 338.20,500.09 338.50,501.10 338.80,500.06 339.10,501.10 339.40,500.56 339.70,501.10 340.00,500.60 340.30,501.10 340.60,496.90 340.90,501.10 341.20,500.61 341.50,501.10 341.80,499.20 342.10,501.10 342.40,500.64 342.70,501.10 343.00,500.23 343.30,501.10 343.60,500.55 343.90,501.10 344.20,495.15 344.50,501.10 344.80,499.01 345.10,501.10 345.40,496.70 345.70,501.10 346.00,497.56 346.30,501.10 346.60,500.52 346.90,501.10 347.20,495.66 347.50,501.10 347.80,499.29 348.10,501.10 348.40,498.43 348.70,501.10 349.00,499.01 349.30,501.10 349.60,500.00 349.90,501.10 350.20,500.47 350.50,501.10 350.80,499.99 351.10,501.10 351.40,500.66 351.70,501.10 352.00,500.52 352.30,501.10 352.60,499.56 352.90,501.10 353.20,500.52 353.50,501.10 353.80,500.58 354.10,501.10 354.40,499.69 354.70,501.10 355.00,498.64 355.30,501.10 355.60,499.83 355.90,501.10 356.20,500.59 356.50,501.10 356.80,499.71 357.10,501.10 357.40,499.10 357.70,501.10 358.00,496.04 358.30,501.10 358.60,500.25 358.90,501.10 359.20,500.12 359.50,501.10 359.80,495.79 360.10,501.10 360.40,500.41 360.70,501.10 361.00,496.56 361.30,501.10 361.60,499.61 361.90,501.10 362.20,498.82 362.50,501.10 362.80,499.74 363.10,501.10 363.40,499.98 363.70,501.10 364.00,500.56 364.30,501.10 364.60,498.13 364.90,501.10 365.20,500.26 365.50,501.10 365.80,500.26 366.10,501.10 366.40,499.82 366.70,501.10 367.00,500.47 367.30,501.10 367.60,500.06 367.90,501.10 368.20,497.94 368.50,501.10 368.80,500.54 369.10,501.10 369.40,499.68 369.70,501.10 370.00,499.18 370.30,501.10 370.60,497.28 370.90,501.10 371.20,499.87 371.50,501.10 371.80,499.66 372.10,501.10 372.40,497.93 372.70,501.10 373.00,500.41 373.30,501.10 373.60,500.66 373.90,501.10 374.20,500.18 374.50,501.10 374.80,500.64 375.10,501.10 375.40,500.69 375.70,501.10 376.00,497.87 376.30,501.10 376.60,500.48 376.90,501.10 377.20,499.99 377.50,501.10 377.80,499.02 378.10,501.10 378.40,500.33 378.70,501.10 379.00,500.65 379.30,501.10 379.60,499.17 379.90,501.10 380.20,500.69 380.50,501.10 380.80,499.33 381.10,501.10 381.40,499.35 381.70,501.10 382.00,500.44 382.30,501.10 382.60,498.10 382.90,501.10 383.20,499.32 383.50,501.10 383.80,498.83 384.10,501.10 384.40,500.39 384.70,501.10 385.00,500.13 385.30,501.10 385.60,499.96 385.90,501.10 386.20,499.67 386.50,501.10 386.80,500.46 387.10,501.10 387.40,500.68 387.70,501.10 388.00,500.43 388.30,501.10 388.60,497.81 388.90,501.10 389.20,500.30 389.50,501.10 389.80,500.30 390.10,501.10 390.40,498.32 390.70,501.10 391.00,499.52 391.30,501.10 391.60,496.84 391.90,501.10 392.20,498.87 392.50,501.10 392.80,498.75 393.10,501.10 393.40,499.41 393.70,501.10 394.00,500.33 394.30,501.10 394.60,499.73 394.90,501.10 395.20,498.28 395.50,501.10 395.80,500.67 396.10,501.10 396.40,498.06 396.70,501.10 397.00,498.94 397.30,501.10 397.60,499.52 397.90,501.10 398.20,499.51 398.50,501.10 398.80,500.63 399.10,501.10 399.40,500.25 399.70,501.10 400.00,498.99 400.30,501.10 400.60,500.63 400.90,501.10 401.20,498.24 401.50,501.10 401.80,500.59 402.10,501.10 402.40,496.96 402.70,501.10 403.00,499.03 403.30,501.10 403.60,498.96 403.90,501.10 404.20,500.36 404.50,501.10 404.80,500.60 405.10,501.10 405.40,500.47 405.70,501.10 406.00,498.01 406.30,501.10 406.60,500.37 406.90,501.10 407.20,500.24 407.50,501.10 407.80,497.38 408.10,501.10 408.40,498.79 408.70,501.10 409.00,500.67 409.30,501.10 409.60,500.13 409.90,501.10 410.20,500.27 410.50,501.10 410.80,499.93 411.10,501.10 411.40,498.72 411.70,501.10 412.00,498.99 412.30,501.10 412.60,500.70 412.90,501.10 413.20,499.26 413.50,501.10 413.80,500.70 414.10,501.10 414.40,500.02 414.70,501.10 415.00,500.50 415.30,501.10 415.60,500.27 415.90,501.10 416.20,500.40 416.50,501.10 416.80,500.37 417.10,501.10 417.40,499.50 417.70,501.10 418.00,500.58 418.30,501.10 418.60,500.62 418.90,501.10 419.20,499.51 419.50,501.10 419.80,499.71 420.10,501.10 420.40,500.19 420.70,501.10 421.00,498.49 421.30,501.10 421.60,496.49 421.90,501.10 422.20,500.39 422.50,501.10 422.80,500.00 423.10,501.10 423.40,498.55 423.70,501.10 424.00,500.08 424.30,501.10 424.60,499.30 424.90,501.10 425.20,499.66 425.50,501.10 425.80,500.30 426.10,501.10 426.40,498.85 426.70,501.10 427.00,499.35 427.30,501.10 427.60,500.12 427.90,501.10 428.20,499.83 428.50,501.10 428.80,500.08 429.10,501.10 429.40,500.43 429.70,501.10 430.00,500.34 430.30,501.10 430.60,498.84 430.90,501.10 431.20,500.53 431.50,501.10 431.80,500.30 432.10,501.10 432.40,500.52 432.70,501.10 433.00,500.49 433.30,501.10 433.60,499.40 433.90,501.10 434.20,497.42 434.50,501.10 434.80,500.22 435.10,501.10 435.40,499.12 435.70,501.10 436.00,500.13 436.30,501.10 436.60,499.68 436.90,501.10 437.20,500.47 437.50,501.10 437.80,500.67 438.10,501.10 438.40,499.13 438.70,501.10 439.00,500.01 439.30,501.10 439.60,500.08 439.90,501.10 440.20,499.77 440.50,501.10 440.80,499.35 441.10,501.10 441.40,500.14 441.70,501.10 442.00,499.32 442.30,501.10 442.60,500.44 442.90,501.10 443.20,498.58 443.50,501.10 443.80,499.50 444.10,501.10 444.40,499.56 444.70,501.10 445.00,500.10 445.30,501.10 445.60,499.71 445.90,501.10 446.20,500.16 446.50,501.10 446.80,499.45 447.10,501.10 447.40,500.41 447.70,501.10 448.00,500.09 448.30,501.10 448.60,500.17 448.90,501.10 449.20,498.04 449.50,501.10 449.80,499.64 450.10,501.10 450.40,500.21 450.70,501.10 451.00,494.17 451.30,501.10 451.60,500.52 451.90,501.10 451.80,502.00"/>
<path d="M73.5 502.0V494.0M77.5 502.0V480.0M88.5 502.0V462.0M91.5 502.0V488.5M106.5 502.0V405.0M116.5 502.0V477.0M128.0 502.0V339.0M144.0 502.0V492.6M149.5 502.0V479.0M154.5 502.0V319.0M172.0 502.0V495.4M187.5 502.0V314.5M192.5 502.0V483.4M200.5 502.0V494.0M207.5 502.0V480.0M219.5 502.0V497.0M230.5 502.0V375.7M235.0 502.0V494.0M253.5 502.0V482.0M261.0 502.0V494.0M274.0 502.0V497.8M288.0 502.0V437.5M292.0 502.0V497.8M367.5 502.0V488.8" stroke="#2a2a2a" stroke-width="0.9" fill="none"/>
<line x1="56.5" y1="553.8" x2="56.5" y2="761.2" stroke="#222" stroke-width="1"/>
<path d="M50.9 553.8H56.5M53.5 555.9H56.5M53.5 558.0H56.5M53.5 560.0H56.5M53.5 562.1H56.5M52.7 564.2H56.5M53.5 566.3H56.5M53.5 568.3H56.5M53.5 570.4H56.5M53.5 572.5H56.5M50.9 574.6H56.5M53.5 576.6H56.5M53.5 578.7H56.5M53.5 580.8H56.5M53.5 582.9H56.5M52.7 584.9H56.5M53.5 587.0H56.5M53.5 589.1H56.5M53.5 591.2H56.5M53.5 593.2H56.5M50.9 595.3H56.5M53.5 597.4H56.5M53.5 599.5H56.5M53.5 601.5H56.5M53.5 603.6H56.5M52.7 605.7H56.5M53.5 607.8H56.5M53.5 609.8H56.5M53.5 611.9H56.5M53.5 614.0H56.5M50.9 616.1H56.5M53.5 618.1H56.5M53.5 620.2H56.5M53.5 622.3H56.5M53.5 624.4H56.5M52.7 626.4H56.5M53.5 628.5H56.5M53.5 630.6H56.5M53.5 632.7H56.5M53.5 634.7H56.5M50.9 636.8H56.5M53.5 638.9H56.5M53.5 641.0H56.5M53.5 643.0H56.5M53.5 645.1H56.5M52.7 647.2H56.5M53.5 649.3H56.5M53.5 651.3H56.5M53.5 653.4H56.5M53.5 655.5H56.5M50.9 657.6H56.5M53.5 659.6H56.5M53.5 661.7H56.5M53.5 663.8H56.5M53.5 665.9H56.5M52.7 667.9H56.5M53.5 670.0H56.5M53.5 672.1H56.5M53.5 674.2H56.5M53.5 676.2H56.5M50.9 678.3H56.5M53.5 680.4H56.5M53.5 682.5H56.5M53.5 684.5H56.5M53.5 686.6H56.5M52.7 688.7H56.5M53.5 690.8H56.5M53.5 692.8H56.5M53.5 694.9H56.5M53.5 697.0H56.5M50.9 699.1H56.5M53.5 701.1H56.5M53.5 703.2H56.5M53.5 705.3H56.5M53.5 707.4H56.5M52.7 709.4H56.5M53.5 711.5H56.5M53.5 713.6H56.5M53.5 715.7H56.5M53.5 717.7H56.5M50.9 719.8H56.5M53.5 721.9H56.5M53.5 724.0H56.5M53.5 726.0H56.5M53.5 728.1H56.5M52.7 730.2H56.5M53.5 732.3H56.5M53.5 734.3H56.5M53.5 736.4H56.5M53.5 738.5H56.5M50.9 740.6H56.5M53.5 742.6H56.5M53.5 744.7H56.5M53.5 746.8H56.5M53.5 748.9H56.5M52.7 750.9H56.5M53.5 753.0H56.5M53.5 755.1H56.5M53.5 757.2H56.5M53.5 759.2H56.5" stroke="#3a3a3a" stroke-width="0.75" fill="none"/>
<line x1="56.5" y1="761.2" x2="458.5" y2="761.2" stroke="#222" stroke-width="1"/>
<path d="M58.4 761.2V763.2M72.5 761.2V763.2M86.6 761.2V763.2M100.7 761.2V763.2M114.8 761.2V767.2M128.9 761.2V763.2M143.0 761.2V763.2M157.1 761.2V763.2M171.2 761.2V763.2M185.3 761.2V763.2M199.4 761.2V763.2M213.5 761.2V763.2M227.6 761.2V767.2M241.7 761.2V763.2M255.8 761.2V763.2M269.9 761.2V763.2M284.0 761.2V763.2M298.1 761.2V763.2M312.1 761.2V763.2M326.2 761.2V763.2M340.3 761.2V767.2M354.4 761.2V763.2M368.5 761.2V763.2M382.6 761.2V763.2M396.7 761.2V763.2M410.8 761.2V763.2M424.9 761.2V763.2M439.0 761.2V763.2M453.1 761.2V767.2" stroke="#444" stroke-width="0.8" fill="none"/>
<path d="M60.5 761.2V729.8M62.5 761.2V553.8M66.0 761.2V737.0M73.5 761.2V720.0M76.0 761.2V647.5M80.0 761.2V553.8M88.5 761.2V697.0M97.5 761.2V657.0M107.0 761.2V671.3M117.0 761.2V665.5M128.5 761.2V661.8M141.0 761.2V651.2M142.0 761.2V731.7M155.5 761.2V627.0M170.5 761.2V624.0M171.5 761.2V722.0M188.0 761.2V616.7M190.0 761.2V718.8M199.0 761.2V739.8M209.0 761.2V609.5M212.0 761.2V738.0M225.5 761.2V710.7M231.0 761.2V610.6M233.0 761.2V725.2M256.5 761.2V643.3M257.5 761.2V739.8M288.0 761.2V644.0M290.5 761.2V733.3M293.0 761.2V731.7M313.0 761.2V739.0M324.5 761.2V684.0M367.5 761.2V719.4M420.5 761.2V735.0" stroke="#5a5a5a" stroke-width="1" fill="none"/>
<path d="M61.50 761.2L62.30 709.93L62.90 709.93L63.70 761.2ZM75.50 761.2L76.30 733.07L76.90 733.07L77.70 761.2ZM78.50 761.2L79.30 714.97L79.90 714.97L80.70 761.2ZM87.50 761.2L88.30 743.63L88.90 743.63L89.70 761.2ZM96.50 761.2L97.30 735.03L97.90 735.03L98.70 761.2ZM106.50 761.2L107.30 737.12L107.90 737.12L108.70 761.2ZM115.50 761.2L116.30 737.07L116.90 737.07L117.70 761.2ZM127.50 761.2L128.30 735.50L128.90 735.50L129.70 761.2ZM139.50 761.2L140.30 732.03L140.90 732.03L141.70 761.2ZM154.50 761.2L155.30 728.55L155.90 728.55L156.70 761.2ZM169.50 761.2L170.30 728.55L170.90 728.55L171.70 761.2ZM187.50 761.2L188.30 723.72L188.90 723.72L189.70 761.2ZM207.50 761.2L208.30 726.57L208.90 726.57L209.70 761.2ZM229.50 761.2L230.30 723.96L230.90 723.96L231.70 761.2ZM255.50 761.2L256.30 732.91L256.90 732.91L257.70 761.2ZM287.50 761.2L288.30 730.84L288.90 730.84L289.70 761.2ZM323.50 761.2L324.30 743.48L324.90 743.48L325.70 761.2Z" fill="#222"/>
<path d="M59.90 761.2V746.70M61.30 761.2V746.00M70.40 761.2V743.05M80.20 761.2V742.21M85.80 761.2V743.92M93.50 761.2V742.47M97.70 761.2V748.12M100.50 761.2V747.69M118.70 761.2V746.38M122.90 761.2V742.56M128.50 761.2V745.26M129.90 761.2V745.51M135.50 761.2V744.53M155.10 761.2V744.70M157.20 761.2V747.69M157.90 761.2V748.16M169.10 761.2V748.33M169.80 761.2V744.21M179.60 761.2V746.40M180.30 761.2V748.69M183.80 761.2V747.57M188.00 761.2V745.87M190.10 761.2V749.19M191.50 761.2V738.37M192.20 761.2V742.71M192.90 761.2V749.18M196.40 761.2V744.52M199.20 761.2V746.14M204.10 761.2V749.32M206.20 761.2V748.20M209.70 761.2V747.96M220.90 761.2V737.88M232.80 761.2V748.71M236.30 761.2V744.00M243.30 761.2V747.23M253.10 761.2V744.67M265.70 761.2V731.32M267.10 761.2V746.88M271.30 761.2V750.02M280.40 761.2V749.52M281.80 761.2V750.08M286.00 761.2V747.38M287.40 761.2V740.07M295.80 761.2V749.46M299.30 761.2V745.51M302.10 761.2V749.98M307.00 761.2V749.28M308.40 761.2V748.45M311.90 761.2V746.55M313.30 761.2V742.20M318.20 761.2V742.21M325.20 761.2V746.74M335.00 761.2V738.55M335.70 761.2V743.65M343.40 761.2V749.86M344.80 761.2V746.82M346.90 761.2V745.73M349.00 761.2V745.30M357.40 761.2V750.82M364.40 761.2V746.97M366.50 761.2V745.89M370.00 761.2V743.54M377.00 761.2V748.99M379.10 761.2V747.35M384.00 761.2V744.82M388.20 761.2V740.50M390.30 761.2V750.56M391.70 761.2V751.18M393.80 761.2V748.60M396.60 761.2V745.04M398.00 761.2V751.15M400.80 761.2V749.94M419.00 761.2V749.48M424.60 761.2V750.06M426.00 761.2V751.41M431.60 761.2V748.67M441.40 761.2V749.18M446.30 761.2V751.67M449.80 761.2V749.63" stroke="#444" stroke-width="0.6" fill="none"/>
<path d="M58.00 761.2V763.10M59.37 761.2V763.62M60.61 761.2V763.93M61.78 761.2V763.32M62.78 761.2V763.14M63.99 761.2V763.47M65.25 761.2V762.72M66.34 761.2V764.42M67.33 761.2V763.81M68.52 761.2V763.27M70.11 761.2V763.29M71.53 761.2V763.02M72.38 761.2V764.44M73.53 761.2V762.82M74.64 761.2V763.58M76.03 761.2V762.92M77.01 761.2V764.62M78.40 761.2V763.01M79.47 761.2V763.40M80.81 761.2V763.93M82.29 761.2V764.34M83.51 761.2V764.18M84.90 761.2V764.22M86.08 761.2V764.27M87.45 761.2V764.53M88.35 761.2V764.44M89.15 761.2V764.23M90.42 761.2V763.70M91.99 761.2V763.84M93.13 761.2V764.27M94.63 761.2V763.91M95.73 761.2V763.60M96.90 761.2V764.15M97.93 761.2V763.48M99.17 761.2V763.47M100.23 761.2V764.27M101.71 761.2V763.70M102.87 761.2V763.07M103.91 761.2V762.99M105.17 761.2V763.86M106.04 761.2V764.54M107.10 761.2V764.39M108.57 761.2V764.62M109.53 761.2V763.55M111.06 761.2V762.72M111.90 761.2V763.83M113.10 761.2V764.54M114.52 761.2V763.78M116.12 761.2V763.73M117.33 761.2V764.07M118.44 761.2V763.42M119.72 761.2V763.40M121.27 761.2V764.05M122.50 761.2V762.90M123.59 761.2V763.50M124.84 761.2V763.85M126.35 761.2V764.63M127.54 761.2V763.58M128.84 761.2V764.69M129.91 761.2V763.76M131.36 761.2V763.04M132.42 761.2V764.66M133.88 761.2V763.73M134.77 761.2V764.49M136.12 761.2V764.34M137.71 761.2V764.48M138.85 761.2V763.01M139.88 761.2V763.72M141.08 761.2V763.08M142.03 761.2V763.96M143.31 761.2V763.41M144.91 761.2V763.97M145.74 761.2V763.52M147.17 761.2V763.31M148.52 761.2V762.71M149.57 761.2V764.38M150.84 761.2V764.04M151.79 761.2V763.70M153.04 761.2V763.23M154.35 761.2V763.76M155.95 761.2V763.85M157.08 761.2V762.94M158.01 761.2V764.22M158.89 761.2V762.90M159.83 761.2V763.74M161.29 761.2V763.93M162.73 761.2V762.82M163.54 761.2V764.24M164.60 761.2V764.13M165.68 761.2V763.04M166.70 761.2V762.90M168.22 761.2V763.86M169.30 761.2V763.60M170.41 761.2V762.81M171.92 761.2V763.87M173.49 761.2V763.58M174.78 761.2V763.20M175.62 761.2V764.56M177.10 761.2V763.33M178.62 761.2V764.33M179.66 761.2V763.91M181.23 761.2V763.69M182.79 761.2V763.19M183.90 761.2V764.14M184.88 761.2V763.32M186.38 761.2V763.67M187.82 761.2V763.19M188.75 761.2V763.42M189.70 761.2V764.64M190.74 761.2V763.82M191.63 761.2V763.77M192.74 761.2V763.51M193.59 761.2V762.95M195.05 761.2V763.40M196.05 761.2V763.08M197.07 761.2V763.17M197.90 761.2V764.03M198.97 761.2V763.01M200.34 761.2V762.89M201.35 761.2V764.37M202.26 761.2V763.59M203.72 761.2V764.31M204.65 761.2V763.41M206.03 761.2V763.45M207.60 761.2V763.12M209.16 761.2V763.71M210.14 761.2V763.61M211.04 761.2V764.11M212.05 761.2V764.50M213.32 761.2V763.44M214.32 761.2V763.92M215.29 761.2V764.44M216.19 761.2V763.73M217.42 761.2V763.24M218.84 761.2V763.47M220.17 761.2V763.84M221.21 761.2V763.48M222.08 761.2V763.05M223.56 761.2V763.34M224.89 761.2V762.92M226.14 761.2V763.42M227.34 761.2V763.29M228.20 761.2V763.32M229.18 761.2V762.95M230.55 761.2V763.26M231.67 761.2V764.52M233.09 761.2V764.47M234.58 761.2V762.96M235.60 761.2V762.76M236.95 761.2V764.03M238.03 761.2V763.53M239.36 761.2V764.10M240.36 761.2V764.39M241.44 761.2V763.96M242.38 761.2V762.93M243.91 761.2V764.17M245.28 761.2V762.78M246.11 761.2V763.02M247.07 761.2V763.31M248.18 761.2V762.78M249.23 761.2V763.98M250.17 761.2V764.38M251.43 761.2V764.13M252.43 761.2V763.57M253.78 761.2V763.40M254.58 761.2V764.37M256.00 761.2V763.27M256.83 761.2V764.41M258.12 761.2V762.79M259.12 761.2V762.92M260.55 761.2V763.12M262.08 761.2V764.20M262.95 761.2V764.09M264.06 761.2V764.20M265.53 761.2V763.26M266.40 761.2V764.59M267.54 761.2V764.56M268.89 761.2V764.18M270.36 761.2V763.96M271.52 761.2V762.81M272.88 761.2V763.56M274.09 761.2V764.56M274.99 761.2V764.22M275.82 761.2V764.11M277.27 761.2V763.22M278.50 761.2V764.64M279.81 761.2V763.79M280.81 761.2V762.82M281.90 761.2V763.52M282.86 761.2V763.32M283.77 761.2V764.11M285.11 761.2V763.18M286.10 761.2V763.73M287.26 761.2V764.57M288.34 761.2V763.30M289.85 761.2V762.98M291.10 761.2V763.37M292.55 761.2V763.80M293.96 761.2V763.04M295.29 761.2V763.90M296.46 761.2V764.23M297.92 761.2V762.93M298.96 761.2V763.42M299.92 761.2V762.82M300.94 761.2V763.09M302.31 761.2V763.60M303.20 761.2V763.35M304.37 761.2V763.43M305.31 761.2V762.84M306.11 761.2V764.68M307.51 761.2V762.87M308.89 761.2V764.66M310.14 761.2V762.92M311.33 761.2V763.57M312.28 761.2V763.79M313.09 761.2V764.54M314.40 761.2V763.96M315.95 761.2V764.01M316.95 761.2V763.19M317.87 761.2V762.76M319.28 761.2V764.38M320.32 761.2V763.07M321.63 761.2V764.39M323.17 761.2V763.04M324.60 761.2V764.36M326.00 761.2V763.35M326.94 761.2V764.35M328.00 761.2V763.44M329.24 761.2V763.44M330.70 761.2V763.18M331.54 761.2V763.83M332.84 761.2V764.34M334.20 761.2V764.51M335.76 761.2V763.69M336.96 761.2V763.01M338.00 761.2V763.86M338.86 761.2V764.08M339.80 761.2V763.59M341.37 761.2V762.88M342.20 761.2V763.58M343.16 761.2V764.15M343.96 761.2V764.38M345.44 761.2V764.27M346.58 761.2V763.27M347.91 761.2V763.73M349.05 761.2V763.38M350.20 761.2V764.03M351.66 761.2V764.51M352.59 761.2V763.29M353.75 761.2V763.83M354.83 761.2V763.09M355.69 761.2V763.35M356.86 761.2V764.64M358.39 761.2V764.43M359.97 761.2V764.62M361.26 761.2V764.32M362.11 761.2V764.05M363.40 761.2V763.29M364.66 761.2V764.61M365.84 761.2V763.99M366.88 761.2V763.39M368.39 761.2V762.76M369.34 761.2V764.06M370.50 761.2V762.87M371.83 761.2V763.44M373.09 761.2V763.53M374.31 761.2V763.83M375.43 761.2V762.93M376.38 761.2V764.48M377.61 761.2V762.92M379.10 761.2V763.21M379.98 761.2V763.76M380.98 761.2V763.68M382.22 761.2V763.15M383.48 761.2V762.93M384.69 761.2V763.88M385.56 761.2V763.52M386.42 761.2V763.58M387.91 761.2V763.80M389.28 761.2V764.21M390.17 761.2V764.68M391.55 761.2V762.90M393.01 761.2V763.48M393.95 761.2V764.62M395.20 761.2V764.25M396.11 761.2V764.25M396.95 761.2V763.17M398.05 761.2V762.73M399.33 761.2V763.13M400.37 761.2V764.11M401.51 761.2V764.48M402.81 761.2V764.44M404.06 761.2V764.54M405.55 761.2V763.04M406.95 761.2V763.38M408.36 761.2V764.06M409.82 761.2V762.95M410.92 761.2V764.17M412.48 761.2V764.14M413.31 761.2V763.91M414.19 761.2V763.80M415.63 761.2V762.93M417.17 761.2V764.05M418.18 761.2V763.09M419.34 761.2V764.38M420.60 761.2V762.93M421.42 761.2V762.92M422.86 761.2V763.07M424.10 761.2V763.28M425.45 761.2V763.46M426.37 761.2V764.45M427.60 761.2V764.08M429.04 761.2V764.60M429.85 761.2V763.38M430.78 761.2V763.70M432.27 761.2V764.30M433.10 761.2V763.06M434.56 761.2V764.06M435.67 761.2V763.65M436.60 761.2V764.39M437.71 761.2V764.45M439.00 761.2V762.85M440.06 761.2V763.13M441.58 761.2V763.88M442.41 761.2V763.04M443.50 761.2V763.64M444.76 761.2V763.48M445.85 761.2V762.71M447.11 761.2V763.37M447.93 761.2V763.62M449.52 761.2V762.79M450.43 761.2V764.04M451.45 761.2V763.25M452.65 761.2V763.22" stroke="#707070" stroke-width="0.55" fill="none"/>
<polygon fill="#0a0a0a" points="58.20,761.20 58.20,748.70 58.45,753.69 58.70,750.14 58.95,753.25 59.20,746.10 59.45,752.98 59.70,748.21 59.95,752.28 60.20,747.05 60.45,753.60 60.70,747.94 60.95,753.26 61.20,747.55 61.45,753.01 61.70,749.38 61.95,752.55 62.20,750.12 62.45,752.39 62.70,741.34 62.95,752.49 63.20,749.70 63.45,752.46 63.70,742.62 63.95,752.67 64.20,749.09 64.45,752.38 64.70,749.91 64.95,752.38 65.20,749.54 65.45,752.88 65.70,744.74 65.95,753.63 66.20,748.54 66.45,752.15 66.70,748.56 66.95,752.51 67.20,747.33 67.45,753.54 67.70,750.17 67.95,753.61 68.20,749.67 68.45,751.86 68.70,749.96 68.95,753.23 69.20,749.83 69.45,752.23 69.70,748.49 69.95,753.13 70.20,749.90 70.45,753.77 70.70,748.51 70.95,753.46 71.20,746.18 71.45,752.12 71.70,749.94 71.95,753.61 72.20,748.32 72.45,752.29 72.70,749.58 72.95,753.17 73.20,749.33 73.45,752.55 73.70,750.26 73.95,751.97 74.20,748.42 74.45,752.87 74.70,748.57 74.95,752.82 75.20,750.37 75.45,753.02 75.70,735.56 75.95,753.35 76.20,749.61 76.45,752.22 76.70,750.11 76.95,752.09 77.20,747.05 77.45,753.00 77.70,748.65 77.95,753.24 78.20,748.59 78.45,753.41 78.70,749.84 78.95,753.46 79.20,747.45 79.45,753.49 79.70,742.87 79.95,752.50 80.20,748.97 80.45,752.22 80.70,750.44 80.95,753.27 81.20,747.49 81.45,753.94 81.70,749.95 81.95,752.15 82.20,750.42 82.45,752.10 82.70,749.09 82.95,752.35 83.20,744.87 83.45,752.29 83.70,750.10 83.95,753.84 84.20,743.25 84.45,752.48 84.70,742.43 84.95,753.28 85.20,749.67 85.45,752.93 85.70,749.73 85.95,752.23 86.20,747.88 86.45,753.31 86.70,749.50 86.95,752.15 87.20,748.87 87.45,753.87 87.70,744.74 87.95,752.49 88.20,749.96 88.45,752.91 88.70,750.02 88.95,753.57 89.20,748.50 89.45,754.04 89.70,750.07 89.95,752.37 90.20,746.59 90.45,752.60 90.70,747.79 90.95,752.64 91.20,749.77 91.45,753.86 91.70,750.23 91.95,753.28 92.20,749.38 92.45,753.86 92.70,750.12 92.95,752.82 93.20,747.57 93.45,752.47 93.70,746.62 93.95,752.70 94.20,750.56 94.45,754.06 94.70,750.60 94.95,752.42 95.20,747.96 95.45,752.46 95.70,748.33 95.95,752.81 96.20,745.62 96.45,753.90 96.70,738.68 96.95,753.73 97.20,742.78 97.45,752.61 97.70,749.53 97.95,752.19 98.20,741.29 98.45,753.92 98.70,750.41 98.95,752.44 99.20,749.55 99.45,753.54 99.70,750.35 99.95,753.18 100.20,750.44 100.45,753.17 100.70,745.67 100.95,752.62 101.20,743.84 101.45,753.65 101.70,750.06 101.95,752.73 102.20,745.02 102.45,753.02 102.70,749.08 102.95,752.23 103.20,748.38 103.45,753.30 103.70,749.13 103.95,754.19 104.20,746.58 104.45,753.02 104.70,749.97 104.95,754.18 105.20,749.76 105.45,753.06 105.70,750.43 105.95,752.25 106.20,748.88 106.45,752.76 106.70,748.87 106.95,752.74 107.20,750.32 107.45,753.95 107.70,747.70 107.95,752.37 108.20,748.40 108.45,753.56 108.70,749.19 108.95,754.22 109.20,750.78 109.45,753.99 109.70,749.36 109.95,754.28 110.20,750.26 110.45,753.78 110.70,749.85 110.95,753.09 111.20,749.31 111.45,753.66 111.70,750.03 111.95,753.40 112.20,750.31 112.45,752.85 112.70,746.03 112.95,753.77 113.20,749.35 113.45,752.77 113.70,750.53 113.95,753.39 114.20,749.36 114.45,753.97 114.70,750.30 114.95,753.99 115.20,749.62 115.45,754.01 115.70,746.37 115.95,752.44 116.20,749.90 116.45,754.00 116.70,750.61 116.95,752.87 117.20,750.66 117.45,753.98 117.70,749.41 117.95,752.56 118.20,749.88 118.45,753.78 118.70,749.70 118.95,753.99 119.20,748.05 119.45,753.76 119.70,749.99 119.95,752.88 120.20,749.98 120.45,753.17 120.70,750.88 120.95,753.56 121.20,750.80 121.45,753.86 121.70,750.28 121.95,752.91 122.20,747.34 122.45,753.70 122.70,747.02 122.95,753.28 123.20,747.80 123.45,753.19 123.70,750.86 123.95,753.18 124.20,748.46 124.45,753.27 124.70,748.87 124.95,753.16 125.20,749.99 125.45,754.32 125.70,750.55 125.95,753.90 126.20,750.05 126.45,753.14 126.70,750.84 126.95,753.24 127.20,749.50 127.45,754.29 127.70,742.20 127.95,753.42 128.20,749.76 128.45,753.33 128.70,749.72 128.95,753.39 129.20,749.66 129.45,754.16 129.70,748.80 129.95,753.32 130.20,750.94 130.45,753.63 130.70,748.10 130.95,752.76 131.20,750.54 131.45,754.17 131.70,750.83 131.95,754.05 132.20,742.98 132.45,753.97 132.70,743.28 132.95,753.39 133.20,749.30 133.45,754.19 133.70,746.95 133.95,753.23 134.20,741.66 134.45,753.12 134.70,750.47 134.95,753.08 135.20,747.16 135.45,753.60 135.70,745.47 135.95,754.32 136.20,747.85 136.45,753.11 136.70,744.96 136.95,753.34 137.20,749.85 137.45,753.77 137.70,750.20 137.95,753.01 138.20,746.08 138.45,752.72 138.70,750.36 138.95,753.44 139.20,749.46 139.45,753.17 139.70,747.95 139.95,754.05 140.20,747.89 140.45,753.55 140.70,745.68 140.95,754.40 141.20,751.03 141.45,753.93 141.70,751.05 141.95,752.80 142.20,749.35 142.45,754.50 142.70,749.52 142.95,753.66 143.20,748.93 143.45,753.26 143.70,750.70 143.95,752.97 144.20,746.18 144.45,752.88 144.70,750.99 144.95,754.59 145.20,750.12 145.45,753.21 145.70,746.47 145.95,753.01 146.20,751.09 146.45,752.79 146.70,747.59 146.95,753.18 147.20,749.47 147.45,753.84 147.70,750.89 147.95,753.37 148.20,747.55 148.45,754.33 148.70,743.40 148.95,752.80 149.20,750.28 149.45,753.19 149.70,749.67 149.95,753.67 150.20,748.64 150.45,754.11 150.70,751.01 150.95,753.00 151.20,746.13 151.45,754.64 151.70,749.77 151.95,753.46 152.20,748.50 152.45,754.63 152.70,751.08 152.95,754.51 153.20,749.46 153.45,752.96 153.70,750.99 153.95,754.58 154.20,747.56 154.45,754.65 154.70,751.24 154.95,754.74 155.20,750.46 155.45,754.12 155.70,751.21 155.95,753.71 156.20,750.75 156.45,753.18 156.70,748.22 156.95,752.96 157.20,749.69 157.45,753.93 157.70,748.23 157.95,753.76 158.20,751.27 158.45,753.04 158.70,749.27 158.95,754.00 159.20,750.48 159.45,754.18 159.70,751.00 159.95,754.74 160.20,750.56 160.45,754.61 160.70,750.06 160.95,753.06 161.20,747.15 161.45,753.87 161.70,749.85 161.95,753.82 162.20,751.03 162.45,753.90 162.70,750.48 162.95,753.70 163.20,750.94 163.45,753.38 163.70,747.30 163.95,754.69 164.20,751.38 164.45,753.89 164.70,748.28 164.95,754.29 165.20,750.90 165.45,753.23 165.70,745.85 165.95,753.96 166.20,750.74 166.45,753.10 166.70,749.71 166.95,754.13 167.20,748.38 167.45,753.07 167.70,750.89 167.95,754.92 168.20,751.37 168.45,754.34 168.70,748.09 168.95,754.58 169.20,750.23 169.45,752.99 169.70,745.84 169.95,753.79 170.20,751.29 170.45,754.45 170.70,749.21 170.95,753.67 171.20,751.19 171.45,753.43 171.70,750.69 171.95,754.99 172.20,748.36 172.45,754.00 172.70,748.49 172.95,754.51 173.20,749.49 173.45,754.26 173.70,747.78 173.95,753.20 174.20,749.00 174.45,753.35 174.70,744.78 174.95,754.52 175.20,751.25 175.45,754.91 175.70,746.84 175.95,754.71 176.20,748.31 176.45,753.92 176.70,748.06 176.95,754.79 177.20,750.85 177.45,754.12 177.70,745.73 177.95,755.00 178.20,748.47 178.45,754.75 178.70,751.05 178.95,753.99 179.20,751.04 179.45,754.90 179.70,749.27 179.95,753.87 180.20,748.53 180.45,754.46 180.70,745.91 180.95,753.91 181.20,751.42 181.45,754.78 181.70,750.78 181.95,754.78 182.20,743.02 182.45,753.15 182.70,751.39 182.95,753.96 183.20,749.77 183.45,753.80 183.70,751.15 183.95,754.82 184.20,749.71 184.45,753.31 184.70,751.01 184.95,754.03 185.20,749.49 185.45,753.39 185.70,742.24 185.95,753.52 186.20,751.03 186.45,753.89 186.70,751.16 186.95,754.39 187.20,747.19 187.45,754.17 187.70,745.44 187.95,755.15 188.20,751.26 188.45,753.51 188.70,746.31 188.95,755.08 189.20,750.48 189.45,753.70 189.70,750.83 189.95,754.31 190.20,747.74 190.45,753.96 190.70,746.43 190.95,754.54 191.20,751.56 191.45,754.11 191.70,745.39 191.95,754.55 192.20,749.73 192.45,754.27 192.70,749.48 192.95,754.23 193.20,750.84 193.45,753.35 193.70,748.14 193.95,754.36 194.20,750.56 194.45,755.03 194.70,749.15 194.95,753.33 195.20,750.98 195.45,755.17 195.70,747.33 195.95,754.44 196.20,745.09 196.45,754.77 196.70,749.73 196.95,754.81 197.20,751.10 197.45,754.13 197.70,744.14 197.95,754.90 198.20,749.54 198.45,755.22 198.70,749.33 198.95,753.86 199.20,751.46 199.45,754.96 199.70,748.66 199.95,753.59 200.20,750.37 200.45,753.64 200.70,749.14 200.95,753.95 201.20,751.72 201.45,754.10 201.70,745.02 201.95,753.71 202.20,751.10 202.45,753.74 202.70,751.07 202.95,753.57 203.20,751.25 203.45,754.13 203.70,745.23 203.95,753.77 204.20,747.08 204.45,755.04 204.70,749.84 204.95,754.00 205.20,751.55 205.45,754.32 205.70,750.25 205.95,754.89 206.20,751.24 206.45,755.22 206.70,750.39 206.95,754.65 207.20,751.30 207.45,753.48 207.70,748.40 207.95,754.11 208.20,746.29 208.45,753.90 208.70,751.77 208.95,754.92 209.20,749.66 209.45,755.04 209.70,751.69 209.95,754.72 210.20,745.09 210.45,754.82 210.70,748.96 210.95,755.32 211.20,749.23 211.45,754.23 211.70,748.67 211.95,753.82 212.20,747.85 212.45,754.50 212.70,749.75 212.95,753.73 213.20,751.14 213.45,754.29 213.70,750.58 213.95,754.81 214.20,750.25 214.45,754.63 214.70,751.35 214.95,755.06 215.20,748.35 215.45,754.83 215.70,749.19 215.95,755.29 216.20,747.42 216.45,755.14 216.70,749.91 216.95,753.77 217.20,749.58 217.45,754.74 217.70,751.38 217.95,754.73 218.20,748.55 218.45,753.95 218.70,751.52 218.95,754.88 219.20,744.67 219.45,754.26 219.70,749.64 219.95,755.22 220.20,745.12 220.45,753.83 220.70,746.18 220.95,754.66 221.20,741.63 221.45,753.78 221.70,751.56 221.95,754.25 222.20,751.27 222.45,754.01 222.70,748.92 222.95,755.26 223.20,748.77 223.45,753.64 223.70,743.55 223.95,754.44 224.20,751.96 224.45,755.04 224.70,750.34 224.95,754.62 225.20,750.33 225.45,755.34 225.70,741.22 225.95,755.53 226.20,751.32 226.45,753.76 226.70,750.82 226.95,754.53 227.20,749.83 227.45,754.54 227.70,751.30 227.95,754.44 228.20,751.47 228.45,755.11 228.70,750.69 228.95,754.04 229.20,749.72 229.45,754.18 229.70,750.51 229.95,755.60 230.20,749.41 230.45,755.50 230.70,749.60 230.95,753.79 231.20,744.39 231.45,755.12 231.70,750.19 231.95,754.39 232.20,751.83 232.45,755.67 232.70,747.58 232.95,754.40 233.20,747.61 233.45,754.61 233.70,751.99 233.95,754.01 234.20,749.20 234.45,755.69 234.70,747.36 234.95,754.67 235.20,748.77 235.45,753.94 235.70,750.57 235.95,754.14 236.20,744.11 236.45,755.15 236.70,746.42 236.95,754.61 237.20,749.60 237.45,755.37 237.70,748.56 237.95,753.77 238.20,751.77 238.45,754.51 238.70,752.24 238.95,755.33 239.20,743.57 239.45,754.83 239.70,752.12 239.95,755.02 240.20,747.94 240.45,755.05 240.70,751.82 240.95,755.59 241.20,751.32 241.45,754.97 241.70,752.02 241.95,754.71 242.20,750.54 242.45,755.21 242.70,751.15 242.95,755.25 243.20,752.20 243.45,754.61 243.70,750.08 243.95,754.30 244.20,750.22 244.45,754.76 244.70,752.02 244.95,755.03 245.20,752.20 245.45,755.81 245.70,751.82 245.95,755.41 246.20,748.87 246.45,755.33 246.70,752.27 246.95,755.80 247.20,745.87 247.45,754.34 247.70,747.02 247.95,755.20 248.20,747.04 248.45,755.71 248.70,751.76 248.95,753.91 249.20,749.55 249.45,755.82 249.70,749.91 249.95,755.50 250.20,752.03 250.45,754.10 250.70,749.30 250.95,755.73 251.20,752.40 251.45,755.01 251.70,748.96 251.95,755.15 252.20,750.61 252.45,754.07 252.70,752.31 252.95,754.50 253.20,744.69 253.45,753.97 253.70,748.89 253.95,754.85 254.20,752.17 254.45,754.35 254.70,751.32 254.95,755.89 255.20,750.87 255.45,754.13 255.70,749.83 255.95,755.65 256.20,752.24 256.45,754.56 256.70,749.59 256.95,755.18 257.20,744.78 257.45,753.98 257.70,752.32 257.95,755.36 258.20,750.65 258.45,754.89 258.70,751.44 258.95,755.28 259.20,747.53 259.45,755.59 259.70,747.62 259.95,755.43 260.20,752.44 260.45,755.70 260.70,751.38 260.95,754.37 261.20,746.79 261.45,755.43 261.70,751.94 261.95,754.72 262.20,751.74 262.45,754.91 262.70,744.62 262.95,755.90 263.20,749.66 263.45,756.03 263.70,749.75 263.95,754.54 264.20,747.33 264.45,755.82 264.70,747.48 264.95,755.60 265.20,749.58 265.45,755.65 265.70,751.05 265.95,755.72 266.20,751.82 266.45,754.81 266.70,751.04 266.95,754.40 267.20,751.07 267.45,755.16 267.70,747.03 267.95,755.92 268.20,750.25 268.45,754.27 268.70,752.12 268.95,755.91 269.20,752.58 269.45,755.54 269.70,743.46 269.95,754.99 270.20,750.30 270.45,755.61 270.70,749.83 270.95,754.64 271.20,752.57 271.45,754.55 271.70,752.03 271.95,755.42 272.20,750.85 272.45,755.34 272.70,750.27 272.95,754.27 273.20,747.71 273.45,754.44 273.70,752.42 273.95,756.10 274.20,750.34 274.45,755.70 274.70,752.28 274.95,754.78 275.20,751.62 275.45,755.06 275.70,750.07 275.95,756.04 276.20,751.85 276.45,754.25 276.70,749.16 276.95,755.90 277.20,749.45 277.45,754.75 277.70,752.68 277.95,756.01 278.20,752.36 278.45,755.38 278.70,750.55 278.95,754.50 279.20,752.52 279.45,754.99 279.70,750.61 279.95,754.67 280.20,745.33 280.45,754.49 280.70,746.14 280.95,755.68 281.20,752.44 281.45,754.75 281.70,751.84 281.95,754.47 282.20,752.18 282.45,754.82 282.70,751.80 282.95,754.71 283.20,752.33 283.45,755.03 283.70,751.86 283.95,755.21 284.20,742.38 284.45,755.95 284.70,747.06 284.95,754.51 285.20,751.56 285.45,754.48 285.70,752.54 285.95,754.64 286.20,752.28 286.45,754.54 286.70,752.66 286.95,755.24 287.20,747.29 287.45,754.45 287.70,752.31 287.95,755.44 288.20,748.74 288.45,756.04 288.70,752.60 288.95,755.38 289.20,752.29 289.45,756.06 289.70,752.36 289.95,754.87 290.20,747.69 290.45,755.81 290.70,752.70 290.95,754.99 291.20,752.40 291.45,755.08 291.70,752.61 291.95,755.33 292.20,746.21 292.45,755.40 292.70,752.82 292.95,755.85 293.20,751.34 293.45,755.38 293.70,751.03 293.95,754.68 294.20,749.64 294.45,755.87 294.70,749.00 294.95,756.20 295.20,752.50 295.45,755.60 295.70,748.27 295.95,754.84 296.20,752.84 296.45,754.69 296.70,752.49 296.95,755.59 297.20,747.32 297.45,755.78 297.70,752.91 297.95,754.90 298.20,751.64 298.45,756.33 298.70,751.59 298.95,755.68 299.20,752.46 299.45,754.85 299.70,737.39 299.95,754.91 300.20,746.46 300.45,755.27 300.70,752.12 300.95,754.51 301.20,752.03 301.45,756.13 301.70,752.98 301.95,754.99 302.20,751.77 302.45,755.91 302.70,752.69 302.95,754.73 303.20,746.54 303.45,754.77 303.70,751.52 303.95,756.27 304.20,752.89 304.45,754.84 304.70,751.25 304.95,755.33 305.20,748.63 305.45,756.24 305.70,746.73 305.95,756.41 306.20,744.41 306.45,754.74 306.70,753.00 306.95,755.11 307.20,746.22 307.45,755.38 307.70,751.54 307.95,756.16 308.20,750.93 308.45,754.78 308.70,752.50 308.95,755.73 309.20,749.83 309.45,756.49 309.70,752.64 309.95,756.36 310.20,751.38 310.45,755.96 310.70,752.49 310.95,755.31 311.20,751.60 311.45,754.73 311.70,750.39 311.95,755.53 312.20,750.87 312.45,754.62 312.70,751.81 312.95,756.02 313.20,751.02 313.45,756.52 313.70,750.03 313.95,755.47 314.20,746.78 314.45,755.44 314.70,746.61 314.95,755.09 315.20,750.47 315.45,755.96 315.70,750.22 315.95,755.08 316.20,752.66 316.45,754.71 316.70,752.85 316.95,755.49 317.20,752.99 317.45,756.54 317.70,751.44 317.95,756.07 318.20,752.01 318.45,755.63 318.70,753.13 318.95,754.99 319.20,752.25 319.45,756.21 319.70,749.57 319.95,755.95 320.20,750.75 320.45,755.08 320.70,750.29 320.95,755.20 321.20,749.75 321.45,756.40 321.70,749.04 321.95,755.10 322.20,753.18 322.45,756.16 322.70,752.58 322.95,754.73 323.20,752.84 323.45,754.73 323.70,752.70 323.95,756.15 324.20,740.94 324.45,756.60 324.70,746.23 324.95,755.41 325.20,751.77 325.45,755.58 325.70,751.95 325.95,754.86 326.20,753.08 326.45,754.94 326.70,751.30 326.95,755.29 327.20,750.13 327.45,755.45 327.70,751.92 327.95,756.63 328.20,747.86 328.45,756.16 328.70,752.31 328.95,755.24 329.20,750.10 329.45,754.98 329.70,751.53 329.95,756.21 330.20,750.04 330.45,755.26 330.70,753.11 330.95,755.94 331.20,753.01 331.45,755.98 331.70,753.09 331.95,755.30 332.20,752.73 332.45,755.89 332.70,744.13 332.95,755.27 333.20,752.65 333.45,756.22 333.70,751.43 333.95,755.25 334.20,752.60 334.45,755.37 334.70,753.01 334.95,756.39 335.20,749.85 335.45,756.78 335.70,750.20 335.95,755.49 336.20,744.77 336.45,755.05 336.70,753.27 336.95,755.18 337.20,748.01 337.45,755.80 337.70,752.95 337.95,755.90 338.20,751.92 338.45,756.32 338.70,751.89 338.95,755.11 339.20,753.26 339.45,755.87 339.70,752.83 339.95,755.35 340.20,752.65 340.45,756.34 340.70,750.48 340.95,755.81 341.20,748.18 341.45,756.16 341.70,753.21 341.95,756.21 342.20,744.88 342.45,756.76 342.70,753.17 342.95,756.18 343.20,752.74 343.45,756.45 343.70,750.51 343.95,755.13 344.20,752.46 344.45,756.89 344.70,753.36 344.95,756.50 345.20,753.18 345.45,755.11 345.70,753.12 345.95,756.64 346.20,753.11 346.45,756.51 346.70,752.38 346.95,755.24 347.20,752.94 347.45,755.23 347.70,752.90 347.95,756.78 348.20,748.81 348.45,756.92 348.70,751.66 348.95,755.94 349.20,751.00 349.45,755.28 349.70,753.09 349.95,755.24 350.20,750.17 350.45,755.52 350.70,752.95 350.95,757.02 351.20,753.22 351.45,755.68 351.70,753.17 351.95,755.73 352.20,753.14 352.45,756.69 352.70,749.58 352.95,755.08 353.20,750.68 353.45,756.86 353.70,747.49 353.95,756.77 354.20,750.16 354.45,755.81 354.70,752.64 354.95,755.84 355.20,753.35 355.45,756.90 355.70,752.53 355.95,756.87 356.20,750.78 356.45,756.94 356.70,750.34 356.95,756.56 357.20,750.80 357.45,755.62 357.70,751.48 357.95,756.79 358.20,753.33 358.45,755.79 358.70,750.19 358.95,756.81 359.20,749.87 359.45,755.41 359.70,748.07 359.95,756.49 360.20,744.18 360.45,756.24 360.70,752.43 360.95,756.71 361.20,750.61 361.45,755.58 361.70,752.83 361.95,755.36 362.20,745.89 362.45,755.62 362.70,753.52 362.95,756.65 363.20,753.23 363.45,755.98 363.70,750.44 363.95,755.80 364.20,751.69 364.45,756.13 364.70,749.10 364.95,755.82 365.20,749.56 365.45,755.41 365.70,751.93 365.95,756.24 366.20,752.39 366.45,756.97 366.70,751.53 366.95,755.94 367.20,752.82 367.45,756.61 367.70,753.46 367.95,755.30 368.20,751.95 368.45,756.67 368.70,752.62 368.95,756.29 369.20,750.31 369.45,755.96 369.70,753.25 369.95,756.85 370.20,753.26 370.45,757.24 370.70,752.63 370.95,756.68 371.20,748.46 371.45,755.87 371.70,752.98 371.95,755.65 372.20,752.20 372.45,756.62 372.70,753.48 372.95,757.29 373.20,752.14 373.45,755.66 373.70,748.98 373.95,756.82 374.20,749.75 374.45,757.15 374.70,747.83 374.95,757.11 375.20,749.20 375.45,756.34 375.70,748.42 375.95,755.61 376.20,751.83 376.45,756.17 376.70,751.99 376.95,755.88 377.20,752.75 377.45,756.27 377.70,748.95 377.95,756.78 378.20,751.09 378.45,755.86 378.70,752.40 378.95,756.56 379.20,749.17 379.45,756.53 379.70,751.31 379.95,756.79 380.20,751.39 380.45,757.05 380.70,740.97 380.95,756.26 381.20,753.70 381.45,756.98 381.70,751.62 381.95,756.31 382.20,751.86 382.45,756.07 382.70,750.99 382.95,755.80 383.20,753.55 383.45,756.64 383.70,753.19 383.95,755.85 384.20,753.74 384.45,756.05 384.70,752.52 384.95,756.38 385.20,752.77 385.45,756.40 385.70,748.14 385.95,755.83 386.20,752.15 386.45,755.78 386.70,753.79 386.95,757.38 387.20,752.92 387.45,756.30 387.70,753.09 387.95,756.24 388.20,753.63 388.45,756.61 388.70,753.95 388.95,756.92 389.20,753.10 389.45,757.31 389.70,752.95 389.95,756.08 390.20,752.37 390.45,756.95 390.70,748.03 390.95,756.22 391.20,750.18 391.45,756.68 391.70,751.74 391.95,757.39 392.20,752.41 392.45,755.87 392.70,753.77 392.95,757.11 393.20,753.96 393.45,756.48 393.70,752.66 393.95,757.31 394.20,753.17 394.45,757.39 394.70,752.00 394.95,756.20 395.20,753.06 395.45,757.11 395.70,753.44 395.95,756.32 396.20,753.15 396.45,756.63 396.70,753.41 396.95,757.20 397.20,753.72 397.45,755.61 397.70,746.61 397.95,755.86 398.20,749.24 398.45,757.04 398.70,751.53 398.95,757.48 399.20,752.49 399.45,755.77 399.70,748.91 399.95,755.98 400.20,751.34 400.45,756.37 400.70,753.91 400.95,757.11 401.20,752.29 401.45,755.69 401.70,754.00 401.95,755.66 402.20,751.66 402.45,755.85 402.70,753.77 402.95,756.85 403.20,751.90 403.45,756.35 403.70,746.41 403.95,756.42 404.20,753.56 404.45,757.59 404.70,743.60 404.95,756.00 405.20,753.76 405.45,756.36 405.70,745.84 405.95,757.02 406.20,754.10 406.45,757.25 406.70,752.46 406.95,757.44 407.20,752.34 407.45,756.47 407.70,748.44 407.95,757.51 408.20,752.54 408.45,756.04 408.70,753.23 408.95,755.70 409.20,750.96 409.45,756.73 409.70,754.20 409.95,756.53 410.20,752.00 410.45,757.17 410.70,753.17 410.95,757.63 411.20,748.94 411.45,756.36 411.70,753.28 411.95,757.54 412.20,751.09 412.45,757.38 412.70,744.87 412.95,756.38 413.20,751.41 413.45,756.97 413.70,753.91 413.95,756.73 414.20,753.61 414.45,755.92 414.70,748.94 414.95,756.06 415.20,751.41 415.45,757.58 415.70,752.51 415.95,757.64 416.20,754.10 416.45,755.99 416.70,753.64 416.95,757.53 417.20,753.13 417.45,756.31 417.70,751.68 417.95,755.99 418.20,752.94 418.45,756.23 418.70,752.18 418.95,756.55 419.20,749.26 419.45,757.81 419.70,753.21 419.95,757.44 420.20,751.48 420.45,757.55 420.70,753.31 420.95,756.78 421.20,754.09 421.45,756.13 421.70,744.13 421.95,756.93 422.20,751.65 422.45,757.12 422.70,753.41 422.95,757.48 423.20,754.29 423.45,756.03 423.70,750.55 423.95,755.94 424.20,753.12 424.45,757.31 424.70,751.77 424.95,757.74 425.20,753.97 425.45,757.51 425.70,754.13 425.95,756.89 426.20,753.57 426.45,757.75 426.70,753.12 426.95,756.40 427.20,749.53 427.45,757.72 427.70,752.51 427.95,757.45 428.20,752.42 428.45,757.63 428.70,753.25 428.95,757.75 429.20,751.15 429.45,757.42 429.70,753.91 429.95,757.58 430.20,747.90 430.45,756.26 430.70,752.14 430.95,756.76 431.20,754.08 431.45,756.89 431.70,753.10 431.95,756.69 432.20,752.85 432.45,757.14 432.70,754.11 432.95,756.70 433.20,748.05 433.45,756.26 433.70,752.73 433.95,756.75 434.20,752.90 434.45,756.04 434.70,754.03 434.95,756.56 435.20,752.51 435.45,757.89 435.70,752.19 435.95,757.90 436.20,752.50 436.45,757.73 436.70,752.30 436.95,757.22 437.20,753.81 437.45,756.51 437.70,747.31 437.95,756.05 438.20,752.92 438.45,757.05 438.70,754.29 438.95,757.38 439.20,752.24 439.45,758.03 439.70,752.28 439.95,756.05 440.20,754.45 440.45,757.99 440.70,753.81 440.95,756.08 441.20,753.49 441.45,757.24 441.70,747.08 441.95,756.43 442.20,751.01 442.45,757.94 442.70,753.96 442.95,757.11 443.20,753.81 443.45,756.90 443.70,752.20 443.95,757.75 444.20,746.65 444.45,757.59 444.70,753.97 444.95,756.83 445.20,752.44 445.45,758.10 445.70,744.52 445.95,757.42 446.20,754.27 446.45,757.23 446.70,753.74 446.95,756.64 447.20,754.33 447.45,756.43 447.70,752.86 447.95,756.46 448.20,753.25 448.45,757.27 448.70,753.59 448.95,756.18 449.20,754.54 449.45,756.63 449.70,751.83 449.95,757.81 450.20,754.12 450.45,757.12 450.70,753.69 450.95,757.70 451.20,754.18 451.45,757.85 451.70,753.48 451.95,758.03 452.20,752.84 452.45,756.33 452.70,754.53 452.95,756.37 453.20,752.61 453.45,756.82 453.50,761.20"/>
<line x1="187.6" y1="328" x2="222.5" y2="319.8" stroke="#58a9c6" stroke-width="3" stroke-linecap="butt"/>
<line x1="130.6" y1="639" x2="140.7" y2="651.3" stroke="#58a9c6" stroke-width="3" stroke-linecap="butt"/>
<line x1="211" y1="614.4" x2="218.6" y2="587" stroke="#58a9c6" stroke-width="3" stroke-linecap="butt"/>
<line x1="256.6" y1="643.3" x2="265.4" y2="612.9" stroke="#58a9c6" stroke-width="3" stroke-linecap="butt"/>
<line x1="287.6" y1="651" x2="335.1" y2="621.3" stroke="#58a9c6" stroke-width="3" stroke-linecap="butt"/>
<line x1="421.3" y1="736.1" x2="438" y2="727.6" stroke="#58a9c6" stroke-width="3" stroke-linecap="butt"/>
<text x="33.32" y="39.62" font-size="16.30" font-weight="bold" fill="#1a1a1a" stroke="#1a1a1a" stroke-width="0.3" textLength="24.85" lengthAdjust="spacingAndGlyphs">(II.)</text>
<text x="257.00" y="58.74" font-size="16.50" font-weight="normal" fill="#1a1a1a" stroke="#1a1a1a" stroke-width="0.3" textLength="32.44" lengthAdjust="spacingAndGlyphs">0.59</text>
<text x="396.67" y="71.74" font-size="16.30" font-weight="bold" fill="#1a1aa2" stroke="#1a1aa2" stroke-width="0.3" textLength="26.33" lengthAdjust="spacingAndGlyphs">TIC</text>
<text x="90.45" y="154.00" font-size="16.30" font-weight="bold" fill="#1d3160" stroke="#1d3160" stroke-width="0.3" textLength="16.22" lengthAdjust="spacingAndGlyphs">A.</text>
<text x="81.20" y="169.94" font-size="16.50" font-weight="normal" fill="#1a1a1a" stroke="#1a1a1a" stroke-width="0.3" textLength="32.28" lengthAdjust="spacingAndGlyphs" mask="url(#mk0)">0.12</text>
<text x="140.41" y="200.04" font-size="16.50" font-weight="normal" fill="#1a1a1a" stroke="#1a1a1a" stroke-width="0.3" textLength="31.65" lengthAdjust="spacingAndGlyphs">0.26</text>
<text x="213.81" y="190.54" font-size="16.50" font-weight="normal" fill="#1a1a1a" stroke="#1a1a1a" stroke-width="0.3" textLength="31.65" lengthAdjust="spacingAndGlyphs">0.46</text>
<text x="348.04" y="178.20" font-size="16.30" font-weight="bold" fill="#1d3160" stroke="#1d3160" stroke-width="0.3" textLength="16.55" lengthAdjust="spacingAndGlyphs">B.</text>
<text x="333.79" y="198.84" font-size="16.50" font-weight="normal" fill="#1a1a1a" stroke="#1a1a1a" stroke-width="0.3" textLength="33.07" lengthAdjust="spacingAndGlyphs">0.79</text>
<text x="82.00" y="243.14" font-size="16.30" font-weight="bold" fill="#1a1a1a" stroke="#1a1a1a" stroke-width="0.3" textLength="24.02" lengthAdjust="spacingAndGlyphs" mask="url(#mk1)">0.1</text>
<text x="155.79" y="243.12" font-size="16.30" font-weight="bold" fill="#1a1a1a" stroke="#1a1a1a" stroke-width="0.3" textLength="23.37" lengthAdjust="spacingAndGlyphs">0.3</text>
<text x="231.21" y="243.14" font-size="16.30" font-weight="bold" fill="#1a1a1a" stroke="#1a1a1a" stroke-width="0.3" textLength="22.39" lengthAdjust="spacingAndGlyphs">0.5</text>
<text x="303.59" y="243.14" font-size="16.30" font-weight="bold" fill="#1a1a1a" stroke="#1a1a1a" stroke-width="0.3" textLength="23.09" lengthAdjust="spacingAndGlyphs">0.7</text>
<text x="377.58" y="243.14" font-size="16.30" font-weight="bold" fill="#1a1a1a" stroke="#1a1a1a" stroke-width="0.3" textLength="23.39" lengthAdjust="spacingAndGlyphs">0.9</text>
<text x="208.86" y="259.32" font-size="16.30" font-weight="bold" fill="#1a1a1a" stroke="#1a1a1a" stroke-width="0.3" textLength="84.52" lengthAdjust="spacingAndGlyphs">Time (min)</text>
<text x="33.11" y="272.52" font-size="16.30" font-weight="bold" fill="#1a1a1a" stroke="#1a1a1a" stroke-width="0.3" textLength="29.98" lengthAdjust="spacingAndGlyphs">(III.)</text>
<text x="31.92" y="300.60" font-size="16.30" font-weight="bold" fill="#1a1a1a" stroke="#1a1a1a" stroke-width="0.3" textLength="17.10" lengthAdjust="spacingAndGlyphs">A.</text>
<text x="178.73" y="281.14" font-size="16.30" font-weight="bold" fill="#ae1c24" stroke="#ae1c24" stroke-width="0.3" textLength="19.45" lengthAdjust="spacingAndGlyphs">+9</text>
<text x="153.17" y="302.74" font-size="16.50" font-weight="normal" fill="#1a1a1a" stroke="#1a1a1a" stroke-width="0.3" textLength="69.57" lengthAdjust="spacingAndGlyphs">952.6304</text>
<text x="91.46" y="311.54" font-size="16.30" font-weight="bold" fill="#ae1c24" stroke="#ae1c24" stroke-width="0.3" textLength="27.76" lengthAdjust="spacingAndGlyphs" mask="url(#mk2)">+10</text>
<text x="70.82" y="332.04" font-size="16.50" font-weight="normal" fill="#1a1a1a" stroke="#1a1a1a" stroke-width="0.3" textLength="69.62" lengthAdjust="spacingAndGlyphs">857.4679</text>
<text x="261.17" y="303.84" font-size="16.30" font-weight="bold" fill="#ae1c24" stroke="#ae1c24" stroke-width="0.3" textLength="18.59" lengthAdjust="spacingAndGlyphs">+8</text>
<text x="229.81" y="325.54" font-size="16.50" font-weight="normal" fill="#1a1a1a" stroke="#1a1a1a" stroke-width="0.3" textLength="80.40" lengthAdjust="spacingAndGlyphs" mask="url(#mk3)">1071.4580</text>
<text x="233.79" y="345.70" font-size="16.30" font-weight="bold" fill="#ae1c24" stroke="#ae1c24" stroke-width="0.3" textLength="17.66" lengthAdjust="spacingAndGlyphs">+7</text>
<text x="203.13" y="366.64" font-size="16.50" font-weight="normal" fill="#1a1a1a" stroke="#1a1a1a" stroke-width="0.3" textLength="79.52" lengthAdjust="spacingAndGlyphs" mask="url(#mk4)">1224.5225</text>
<text x="396.52" y="329.04" font-size="16.30" font-weight="bold" fill="#1a1aa2" stroke="#1a1aa2" stroke-width="0.3" textLength="52.22" lengthAdjust="spacingAndGlyphs" mask="url(#mk5)">1.24E6</text>
<text x="89.16" y="398.00" font-size="16.30" font-weight="bold" fill="#ae1c24" stroke="#ae1c24" stroke-width="0.3" textLength="28.36" lengthAdjust="spacingAndGlyphs" mask="url(#mk6)">+11</text>
<text x="278.60" y="409.64" font-size="16.30" font-weight="bold" fill="#ae1c24" stroke="#ae1c24" stroke-width="0.3" textLength="19.70" lengthAdjust="spacingAndGlyphs">+6</text>
<text x="247.82" y="432.54" font-size="16.50" font-weight="normal" fill="#1a1a1a" stroke="#1a1a1a" stroke-width="0.3" textLength="79.93" lengthAdjust="spacingAndGlyphs" mask="url(#mk7)">1428.2749</text>
<text x="68.66" y="457.00" font-size="16.30" font-weight="bold" fill="#ae1c24" stroke="#ae1c24" stroke-width="0.3" textLength="28.06" lengthAdjust="spacingAndGlyphs" mask="url(#mk8)">+12</text>
<text x="357.33" y="459.24" font-size="16.30" font-weight="bold" fill="#ae1c24" stroke="#ae1c24" stroke-width="0.3" textLength="19.70" lengthAdjust="spacingAndGlyphs">+5</text>
<text x="327.21" y="481.64" font-size="16.50" font-weight="normal" fill="#1a1a1a" stroke="#1a1a1a" stroke-width="0.3" textLength="80.39" lengthAdjust="spacingAndGlyphs" mask="url(#mk9)">1714.1292</text>
<text x="32.77" y="522.30" font-size="16.30" font-weight="bold" fill="#1a1a1a" stroke="#1a1a1a" stroke-width="0.3" textLength="15.48" lengthAdjust="spacingAndGlyphs">B.</text>
<text x="61.59" y="551.44" font-size="16.50" font-weight="normal" fill="#1a1a1a" stroke="#1a1a1a" stroke-width="0.3" textLength="71.00" lengthAdjust="spacingAndGlyphs">675.6748</text>
<text x="10.16" y="560.94" font-size="16.30" font-weight="bold" fill="#1a1a1a" stroke="#1a1a1a" stroke-width="0.3" textLength="26.54" lengthAdjust="spacingAndGlyphs" mask="url(#mk10)">100</text>
<text x="396.65" y="558.54" font-size="16.30" font-weight="bold" fill="#1a1aa2" stroke="#1a1aa2" stroke-width="0.3" textLength="51.99" lengthAdjust="spacingAndGlyphs">5.50E4</text>
<text x="192.57" y="566.24" font-size="16.30" font-weight="bold" fill="#ae1c24" stroke="#ae1c24" stroke-width="0.3" textLength="29.31" lengthAdjust="spacingAndGlyphs" mask="url(#mk11)">+15</text>
<text x="168.83" y="587.14" font-size="16.50" font-weight="normal" fill="#1a1a1a" stroke="#1a1a1a" stroke-width="0.3" textLength="78.25" lengthAdjust="spacingAndGlyphs" mask="url(#mk12)">1131.0698</text>
<text x="282.93" y="581.42" font-size="16.30" font-weight="bold" fill="#ae1c24" stroke="#ae1c24" stroke-width="0.3" textLength="28.93" lengthAdjust="spacingAndGlyphs" mask="url(#mk13)">+13</text>
<text x="257.34" y="603.14" font-size="16.50" font-weight="normal" fill="#1a1a1a" stroke="#1a1a1a" stroke-width="0.3" textLength="78.94" lengthAdjust="spacingAndGlyphs" mask="url(#mk14)">1304.8483</text>
<text x="366.46" y="598.70" font-size="16.30" font-weight="bold" fill="#ae1c24" stroke="#ae1c24" stroke-width="0.3" textLength="27.74" lengthAdjust="spacingAndGlyphs" mask="url(#mk15)">+12</text>
<text x="171.53" y="607.34" font-size="16.30" font-weight="bold" fill="#ae1c24" stroke="#ae1c24" stroke-width="0.3" textLength="28.93" lengthAdjust="spacingAndGlyphs" mask="url(#mk16)">+16</text>
<text x="223.75" y="608.30" font-size="16.30" font-weight="bold" fill="#ae1c24" stroke="#ae1c24" stroke-width="0.3" textLength="28.29" lengthAdjust="spacingAndGlyphs" mask="url(#mk17)">+14</text>
<text x="339.63" y="619.54" font-size="16.50" font-weight="normal" fill="#1a1a1a" stroke="#1a1a1a" stroke-width="0.3" textLength="79.45" lengthAdjust="spacingAndGlyphs" mask="url(#mk18)">1413.5858</text>
<text x="131.76" y="623.14" font-size="16.30" font-weight="bold" fill="#ae1c24" stroke="#ae1c24" stroke-width="0.3" textLength="28.00" lengthAdjust="spacingAndGlyphs" mask="url(#mk19)">+18</text>
<text x="99.35" y="638.94" font-size="16.30" font-weight="bold" fill="#ae1c24" stroke="#ae1c24" stroke-width="0.3" textLength="28.22" lengthAdjust="spacingAndGlyphs" mask="url(#mk20)">+19</text>
<text x="83.33" y="652.12" font-size="16.30" font-weight="bold" fill="#ae1c24" stroke="#ae1c24" stroke-width="0.3" textLength="29.04" lengthAdjust="spacingAndGlyphs">+23</text>
<text x="332.31" y="653.90" font-size="16.30" font-weight="bold" fill="#ae1c24" stroke="#ae1c24" stroke-width="0.3" textLength="28.36" lengthAdjust="spacingAndGlyphs" mask="url(#mk21)">+11</text>
<text x="32.33" y="664.77" font-size="16.30" font-weight="bold" fill="#1a1a1a" stroke="#1a1a1a" stroke-width="0.3" textLength="13.77" lengthAdjust="spacingAndGlyphs">%</text>
<text x="306.25" y="675.74" font-size="16.50" font-weight="normal" fill="#1a1a1a" stroke="#1a1a1a" stroke-width="0.3" textLength="78.74" lengthAdjust="spacingAndGlyphs" mask="url(#mk22)">1542.0937</text>
<text x="345.37" y="694.14" font-size="16.30" font-weight="bold" fill="#ae1c24" stroke="#ae1c24" stroke-width="0.3" textLength="27.65" lengthAdjust="spacingAndGlyphs" mask="url(#mk23)">+10</text>
<text x="469.45" y="707.14" font-size="16.30" font-weight="bold" fill="#ae1c24" stroke="#ae1c24" stroke-width="0.3" textLength="19.02" lengthAdjust="spacingAndGlyphs">+9</text>
<text x="350.43" y="712.74" font-size="16.50" font-weight="normal" fill="#1a1a1a" stroke="#1a1a1a" stroke-width="0.3" textLength="79.63" lengthAdjust="spacingAndGlyphs" mask="url(#mk24)">1696.2015</text>
<text x="438.81" y="727.74" font-size="16.50" font-weight="normal" fill="#1a1a1a" stroke="#1a1a1a" stroke-width="0.3" textLength="80.74" lengthAdjust="spacingAndGlyphs" mask="url(#mk25)">1884.4421</text>
<text x="38.06" y="769.34" font-size="16.30" font-weight="bold" fill="#1a1a1a" stroke="#1a1a1a" stroke-width="0.3" textLength="8.61" lengthAdjust="spacingAndGlyphs">0</text>
<text x="101.13" y="785.54" font-size="16.30" font-weight="bold" fill="#1a1a1a" stroke="#1a1a1a" stroke-width="0.3" textLength="27.39" lengthAdjust="spacingAndGlyphs">800</text>
<text x="211.82" y="785.74" font-size="16.30" font-weight="bold" fill="#1a1a1a" stroke="#1a1a1a" stroke-width="0.3" textLength="36.81" lengthAdjust="spacingAndGlyphs" mask="url(#mk26)">1200</text>
<text x="324.72" y="785.74" font-size="16.30" font-weight="bold" fill="#1a1a1a" stroke="#1a1a1a" stroke-width="0.3" textLength="36.81" lengthAdjust="spacingAndGlyphs" mask="url(#mk27)">1600</text>
<text x="438.69" y="786.14" font-size="16.30" font-weight="bold" fill="#1a1a1a" stroke="#1a1a1a" stroke-width="0.3" textLength="36.13" lengthAdjust="spacingAndGlyphs">2000</text>
<text x="89.06" y="41.72" font-size="16.30" font-weight="bold" fill="#ffffff" stroke="#ffffff" stroke-width="0.3" textLength="19.49" lengthAdjust="spacingAndGlyphs">(I.)</text>
</g>
</svg>
</body></html>
